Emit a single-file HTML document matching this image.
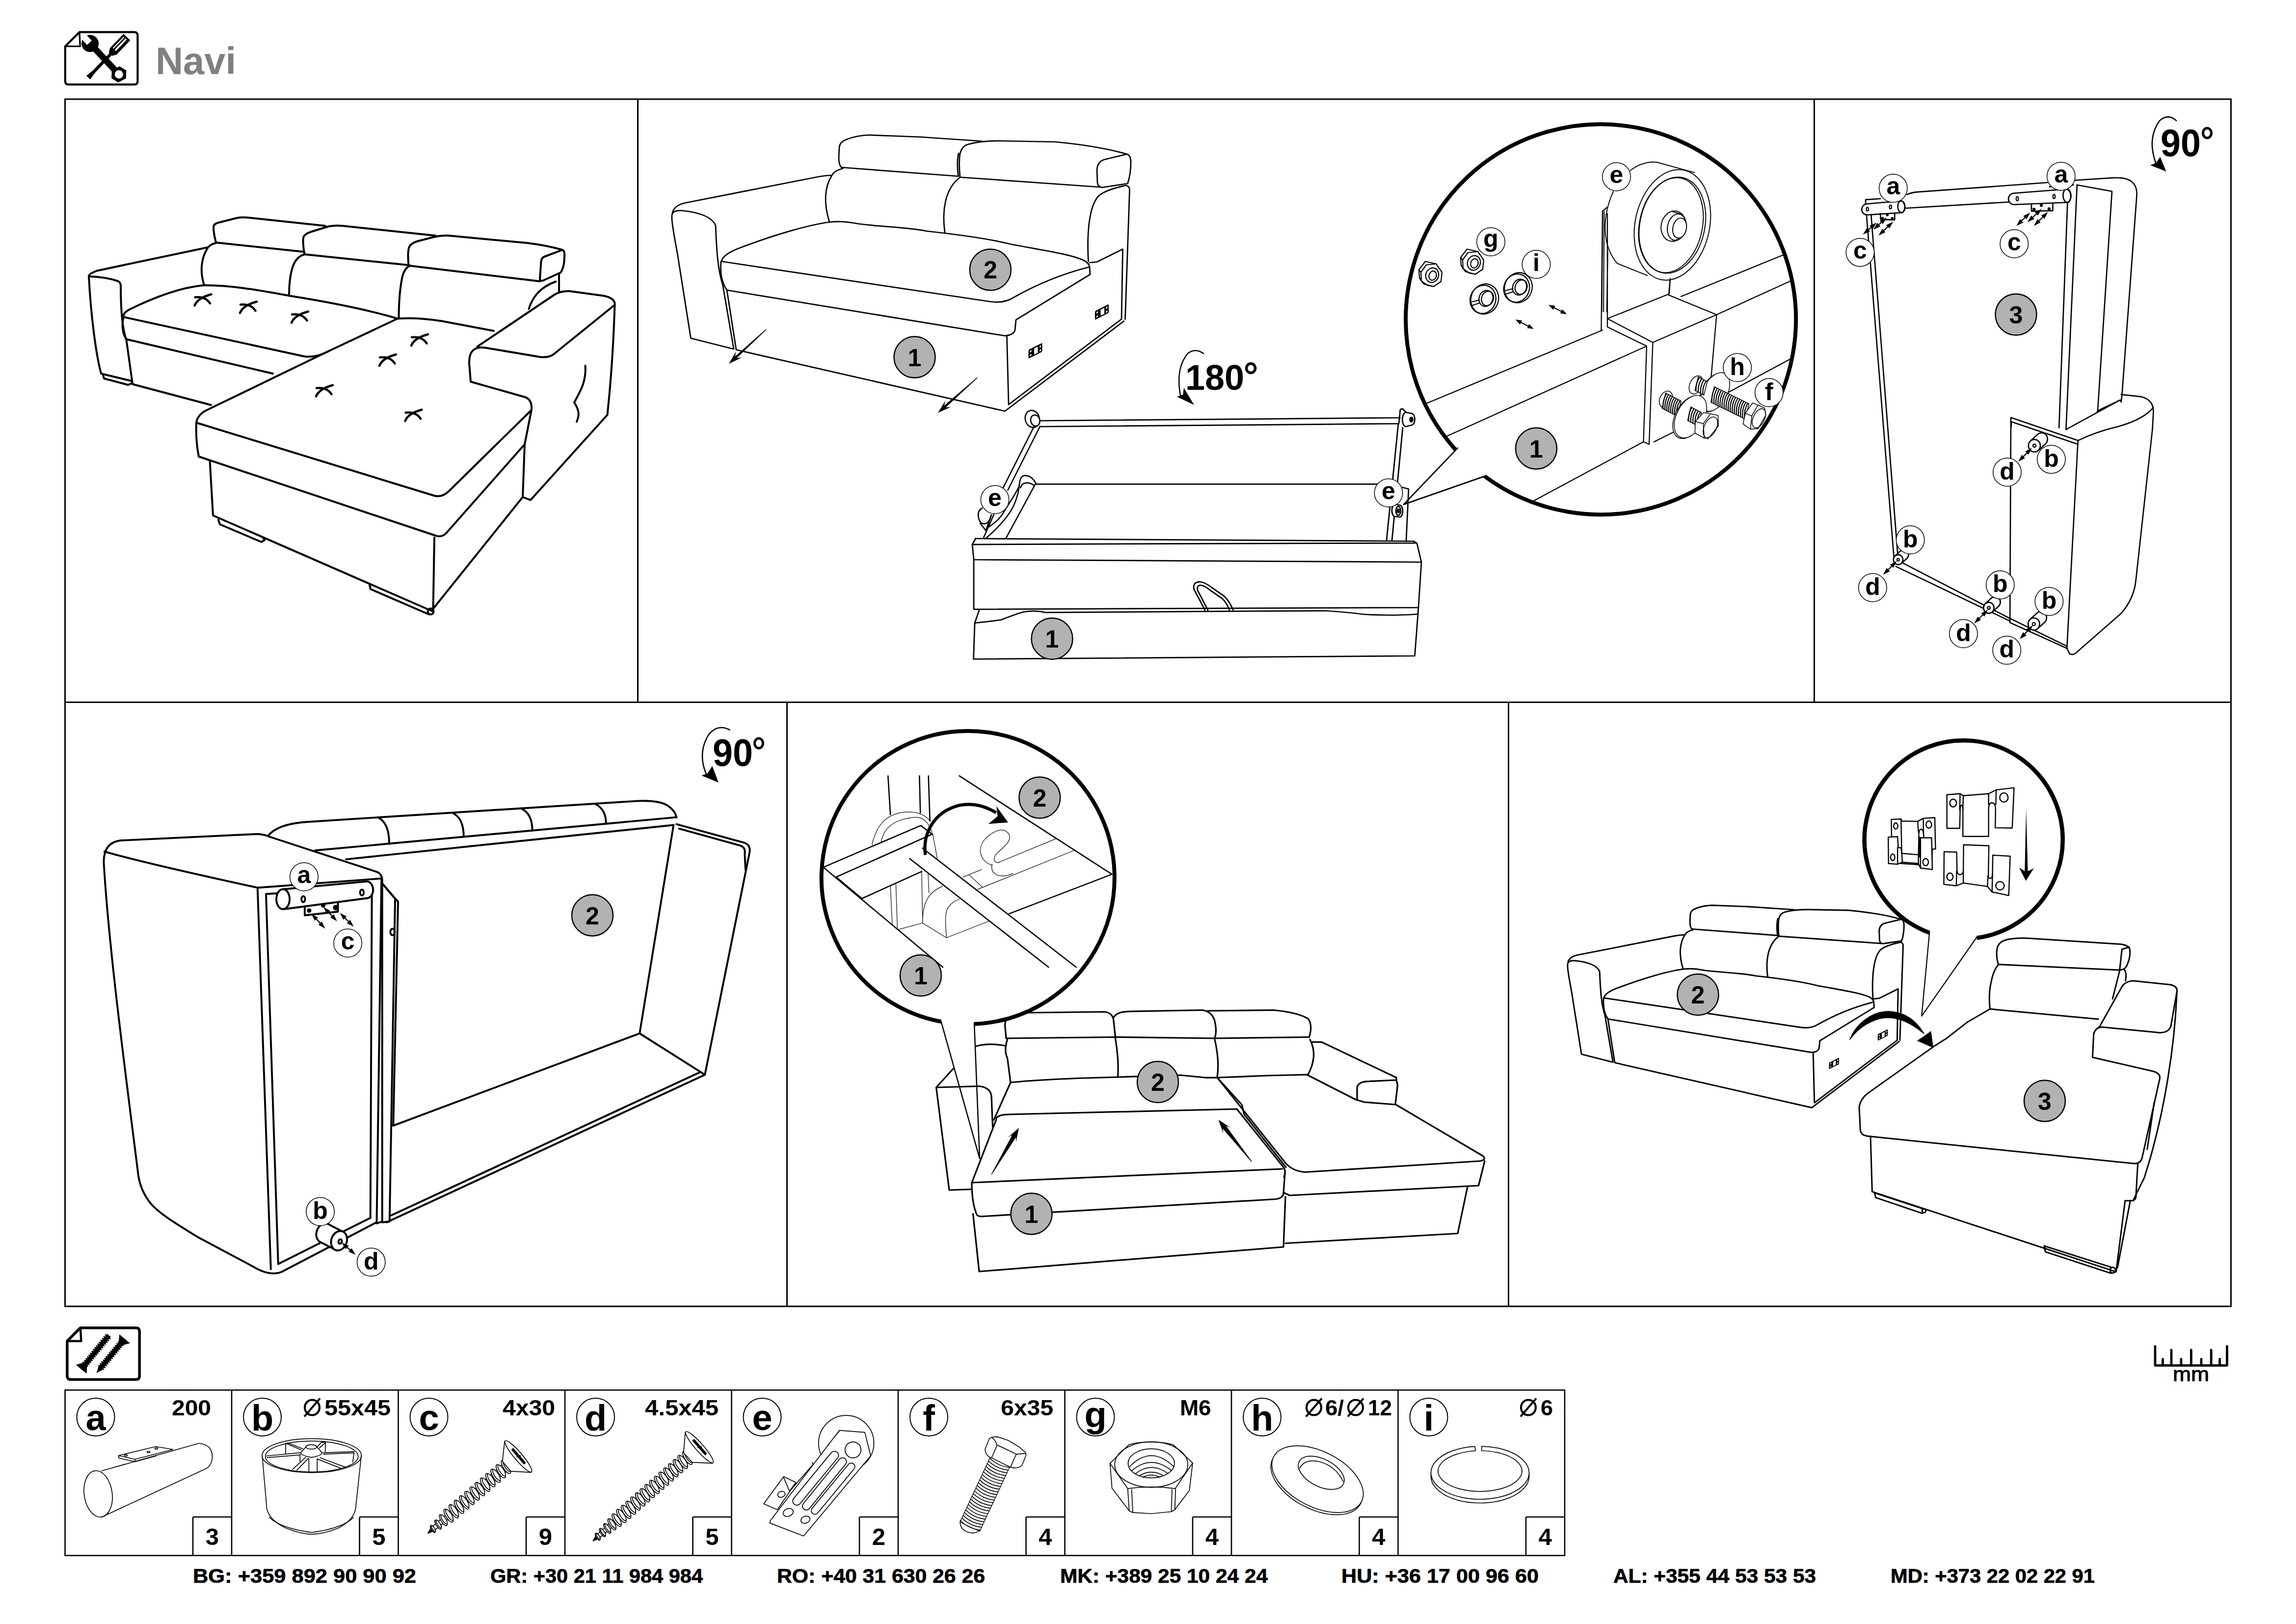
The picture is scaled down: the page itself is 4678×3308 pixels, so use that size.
<!DOCTYPE html>
<html><head><meta charset="utf-8">
<style>
html,body{margin:0;padding:0;background:#fff;}
body{width:4678px;height:3308px;overflow:hidden;font-family:"Liberation Sans",sans-serif;}
svg{display:block;position:absolute;left:0;top:0;}
.l{fill:none;stroke:#000;stroke-linecap:round;stroke-linejoin:round;}
.w{fill:#fff;stroke:#000;stroke-linecap:round;stroke-linejoin:round;}
text{font-family:"Liberation Sans",sans-serif;}
.b{font-weight:bold;}
</style></head><body>
<svg width="4678" height="3308" viewBox="0 0 4678 3308">
<rect width="4678" height="3308" fill="#fff"/>
<!-- hdr.svg -->
<text x="317" y="151" class="b" font-size="77" fill="#808080" textLength="164" lengthAdjust="spacingAndGlyphs">Navi</text>
<path d="M132.8,94.4 L161.8,65.4 L273.4,65.4 Q280.4,65.4 280.4,72.4 L280.4,165.2 Q280.4,172.2 273.4,172.2 L139.8,172.2 Q132.8,172.2 132.8,165.2 Z" fill="#fff" stroke="#000" stroke-width="4.2" stroke-linejoin="round"/><path d="M161.8,65.4 L163.3,94.4 L132.8,94.4" fill="none" stroke="#000" stroke-width="3.36" stroke-linejoin="round"/>
<g transform="translate(183.6,88.6) rotate(47)">
<rect x="0" y="-6.5" width="86" height="13" fill="#000"/>
<circle cx="0" cy="0" r="17.5" fill="#000"/>
<path d="M-20,-6.5 L-2,-6.5 L-2,6.5 L-20,6.5 Z" fill="#fff"/>
<path d="M72,-9 L86,-17 L100,-9 L100,9 L86,17 L72,9 Z" fill="#000" transform="rotate(15 86 0)"/>
<circle cx="86" cy="0" r="8.5" fill="#fff"/>
</g>
<g transform="translate(258.5,75.5) rotate(133.6)">
<path d="M0,-9.5 L40,-9.5 L48,-5 L48,5 L40,9.5 L0,9.5 Z" fill="#000"/>
<rect x="4" y="-3.4" width="32" height="3.6" fill="#fff"/><rect x="4" y="3.2" width="32" height="2.2" fill="#fff"/>
<rect x="46" y="-3.2" width="56" height="6.4" fill="#000"/>
<path d="M98,-3.2 L114,-5.5 L114,5.5 L98,3.2 Z" fill="#000"/>
</g>
<path d="M136.9,2731.8 L163.9,2704.8 L277.2,2704.8 Q284.2,2704.8 284.2,2711.8 L284.2,2803 Q284.2,2810 277.2,2810 L143.9,2810 Q136.9,2810 136.9,2803 Z" fill="#fff" stroke="#000" stroke-width="5.5" stroke-linejoin="round"/><path d="M163.9,2704.8 L165.4,2731.8 L136.9,2731.8" fill="none" stroke="#000" stroke-width="4.4" stroke-linejoin="round"/>
<path d="M173.1,2779.7 L221.5,2720.6" stroke="#000" stroke-width="14" stroke-dasharray="2.6 2.2" fill="none"/><path d="M165.5,2789.0 L222.0,2720.0" stroke="#000" stroke-width="9.5" fill="none"/><path d="M176.3,2797.9 L154.7,2780.1 L169.9,2775.8 L177.6,2782.1 Z" fill="#000"/>
<path d="M246.4,2736.3 L204.1,2787.7" stroke="#000" stroke-width="14" stroke-dasharray="2.6 2.2" fill="none"/><path d="M254.0,2727.0 L202.6,2789.6" stroke="#000" stroke-width="9.5" fill="none"/><path d="M196.5,2797.0 L202.0,2780.8 L211.3,2788.4 Z" fill="#000"/><path d="M243.2,2718.1 L264.8,2735.9 L249.6,2740.2 L241.9,2733.9 Z" fill="#000"/>
<!-- p1.svg -->
<g id="p1" transform="translate(150,400) scale(.5)" class="l" stroke-width="8">
<defs><g id="xm" stroke-width="9"><path d="M-34,23 Q-22,-8 34,-23"/><path d="M-32,-11 Q10,-16 29,14"/></g></defs>
<!-- left arm -->
<path d="M62,326 Q60,316 95,303 L545,208"/>
<path d="M62,326 Q130,328 180,345 Q192,350 192,365 C192,450 198,540 215,585 L240,764"/>
<path d="M62,326 C70,480 90,640 112,722 L236,752"/>
<path d="M120,728 L124,742 L222,768 L236,762"/>
<!-- seat -->
<path d="M205,492 Q198,478 225,462 C330,410 430,372 530,362 C650,362 770,385 880,405 C1050,432 1200,462 1320,498"/>
<path d="M205,492 L940,652 Q990,658 1040,630"/>
<path d="M203,492 C195,530 200,560 215,582 L812,722"/>
<path d="M240,765 L560,850"/>
<!-- back cushions -->
<path d="M532,362 C515,310 518,255 545,212 Q555,195 580,190"/>
<path d="M878,405 C878,350 885,300 900,270 Q915,242 942,236"/>
<path d="M1325,497 C1325,430 1330,370 1340,325 Q1350,290 1372,282"/>
<path d="M1978,318 L1978,390"/>
<path d="M1965,347 C1900,370 1870,410 1855,458"/>
<!-- headrests -->
<path d="M580,188 C574,165 570,140 570,125 Q570,112 590,107 L665,88 Q685,84 705,86 L1025,120"/>
<path d="M580,188 L940,226"/>
<path d="M940,232 C935,200 934,180 936,168 Q940,152 975,142 L1040,122 Q1065,117 1095,120 L1475,160"/>
<path d="M940,236 L1365,280"/>
<path d="M1365,282 C1362,250 1362,225 1366,210 Q1372,192 1400,183 L1470,165 Q1500,158 1530,160 L1850,190 Q1930,200 1992,218"/>
<path d="M1365,282 L1900,346"/>
<path d="M1992,218 Q2002,222 2000,245 C2000,270 1995,295 1985,310 L1915,342 Q1900,348 1900,335 L1905,265 Q1906,250 1920,245 Z"/>
<!-- right arm -->
<path d="M1645,612 L1960,400 Q1985,385 2020,386 L2160,405 Q2208,415 2205,442"/>
<path d="M2205,442 L1960,640 Q1942,657 1905,655 L1680,617 Q1610,605 1612,680 L1618,755 L1840,818 Q1868,828 1866,868 L1838,1010 L1830,1225 L1862,1237 L2175,890 C2190,750 2200,600 2205,442"/>
<path d="M2085,690 C2090,760 2060,800 2040,840 C2060,870 2062,890 2050,918"/>
<!-- chaise -->
<path d="M1320,498 L1040,630 L540,872 Q505,890 500,922 L1465,1218 Q1500,1230 1530,1200 L1864,872"/>
<path d="M1320,498 Q1400,492 1500,508 L1712,548"/>
<path d="M500,922 C498,970 502,1020 510,1060 L1475,1382 Q1500,1392 1520,1370 L1838,1010"/>
<path d="M555,1076 L568,1300 L1462,1690"/>
<path d="M1470,1390 L1465,1680 L1830,1225"/>
<path d="M590,1318 L596,1336 L765,1408 L778,1400 L772,1390"/>
<path d="M1205,1578 L1210,1600 L1448,1703"/>
<circle cx="1455" cy="1691" r="12"/>
<use href="#xm" x="527" y="422"/><use href="#xm" x="712" y="452"/><use href="#xm" x="922" y="492"/>
<use href="#xm" x="1410" y="585"/><use href="#xm" x="1280" y="667"/><use href="#xm" x="1022" y="792"/><use href="#xm" x="1385" y="892"/>
</g>
<!-- p2a.svg -->
<defs>
<g id="hng"><g transform="skewY(-27)"><rect x="-28" y="-18" width="56" height="36" rx="4" fill="#000" stroke="none"/><rect x="-5" y="-12" width="15" height="25" fill="#fff" stroke="none"/><rect x="-22" y="-11" width="6" height="7" fill="#fff" stroke="none"/><rect x="-22" y="5" width="6" height="7" fill="#fff" stroke="none"/><rect x="17" y="-11" width="6" height="7" fill="#fff" stroke="none"/><rect x="17" y="5" width="6" height="7" fill="#fff" stroke="none"/></g></g>
<g id="arw"><path d="M0,0 L-152,140" class="l" stroke-width="4"/><path d="M-152,140 L-118,84 L-126,110 L-96,108 Z" fill="#000"/></g>
</defs>
<g id="p2a" transform="translate(1300,230) scale(.5)" class="l" stroke-width="5.5">
<!-- left arm -->
<path d="M215,918 L160,570 Q135,440 138,420 Q138,395 180,398 Q295,410 316,458 C320,560 325,640 345,700 L390,962 Z"/>
<path d="M140,405 Q150,375 195,366 L735,260 Q760,255 790,254"/>
<!-- seat -->
<path d="M340,605 Q345,575 420,548 C560,495 700,455 780,445 Q830,438 900,452 C1000,465 1100,465 1180,482 C1300,495 1420,510 1520,535 C1650,560 1760,575 1815,600 Q1840,612 1840,630"/>
<path d="M340,605 L1430,768 Q1490,778 1530,752 C1640,690 1750,650 1838,628"/>
<path d="M338,605 C334,650 340,690 362,722 L1495,908 Q1530,905 1536,885 L1540,843 L1842,658 L1840,628"/>
<!-- base -->
<path d="M362,722 L400,965 L1495,1215 L1980,848"/>
<path d="M1503,912 L1510,1188 L1970,840 L1975,555 L1870,607 L1840,610"/>
<!-- backs -->
<path d="M780,445 C760,380 755,310 790,254 Q800,235 835,226"/>
<path d="M1250,487 C1238,400 1250,310 1310,264"/>
<path d="M1835,605 C1828,480 1840,380 1875,340 Q1900,315 1985,296 Q2003,295 2003,315 L1985,840"/>
<!-- headrests -->
<path d="M830,222 Q818,215 818,180 L820,140 Q822,118 850,108 Q890,92 940,90 L1150,98 L1400,115"/>
<path d="M830,222 L1305,258"/>
<path d="M1305,258 C1300,220 1300,190 1306,165"/>
<path d="M1312,260 C1308,220 1308,190 1312,165 Q1320,135 1345,128 Q1400,113 1480,114 L1700,118 Q1880,135 1992,168"/>
<path d="M1312,262 L1880,302"/>
<path d="M1992,168 Q2008,172 2008,200 Q2008,250 1995,288 L1895,303 Q1875,305 1872,285 L1870,235 Q1870,200 1900,190 Z"/>
<use href="#hng" x="1890" y="811"/>
<use href="#hng" x="1619" y="969"/>
</g>
<!-- p2b.svg -->
<g id="p2b" transform="translate(1850,640) scale(.5)" class="l" stroke-width="5.5">
<!-- top rail -->
<path d="M538,434 L2005,422 M538,458 L2000,446"/>
<!-- right wheel -->
<path d="M2000,446 L2005,400 Q2003,385 2015,385 L2030,400" />
<path d="M2030,400 L2055,405 A14,24 0 0 1 2052,452 L2028,458 A14,28 0 0 1 2030,400 Z" class="w"/>
<ellipse cx="2051" cy="429" rx="6" ry="9" fill="#000"/>
<!-- right rail -->
<path d="M1998,446 L1950,922 M2016,462 L1972,922"/>
<path d="M2012,705 L2040,712 L2030,925"/>
<path d="M1985,775 L2005,778 A12,24 0 0 1 2003,826 L1983,824 A12,24 0 0 1 1985,775 Z" class="w"/>
<ellipse cx="1998" cy="801" rx="10" ry="18" class="w"/>
<ellipse cx="1998" cy="801" rx="4" ry="7" fill="#000"/>
<!-- inner back -->
<path d="M522,692 L1930,692"/>
<!-- front board -->
<path d="M275,914 L2060,925"/>
<path d="M275,915 L262,938 L2072,932 L2060,925"/>
<path d="M262,938 L268,1000 L2092,1010 L2074,934"/>
<path d="M268,1000 L268,1202 L2080,1195 L2092,1010"/>
<!-- lower box -->
<path d="M290,1206 L272,1258 Q330,1252 380,1245 Q430,1225 470,1213 Q520,1205 560,1215 L1700,1208 Q1800,1215 1850,1222 Q1950,1230 2078,1222"/>
<path d="M272,1258 L267,1405 L2065,1392 L2078,1222 L2080,1195"/>
<!-- strap -->
<path d="M1210,1205 L1165,1120 Q1160,1090 1190,1090 Q1210,1092 1240,1115 L1290,1150 Q1310,1170 1325,1205"/>
<path d="M1222,1205 L1180,1125 Q1176,1105 1192,1104 Q1210,1106 1232,1125 L1280,1158 Q1298,1175 1310,1205"/>
</g>
<g transform="translate(1950,820) scale(.18474)" class="l" stroke-width="14">
<ellipse cx="830" cy="180" rx="78" ry="95" transform="rotate(-15 830 180)"/>
<ellipse cx="862" cy="198" rx="50" ry="62" transform="rotate(-15 862 198)" class="w"/>
<path d="M850,262 L480,995 M915,262 L560,965"/>
<path d="M275,1165 Q225,1190 235,1260 Q250,1345 310,1335 Q360,1325 375,1240 M255,1330 L320,1415"/>
<path d="M868,890 L540,1495"/>
<path d="M868,890 Q820,800 740,805 Q700,810 690,880 C670,1100 600,1250 320,1495"/>
<path d="M850,915 Q800,875 740,890 Q710,900 700,940"/>
<path d="M685,920 C640,1020 560,1130 520,1200 C470,1290 400,1340 350,1370"/>
<path d="M405,1235 L290,1495 M378,1240 L318,1410"/>
</g>
<!-- 180 -->
<g id="r180">
<path d="M2452,720 Q2435,708 2420,720 Q2395,750 2405,805" class="l" stroke-width="2.5"/>
<path d="M2433,825 L2398,808 L2410,804 L2412,790 Z" fill="#000"/>
<text x="2415" y="794" class="b" font-size="72" textLength="120" lengthAdjust="spacingAndGlyphs">180</text>
<ellipse cx="2548.5" cy="750" rx="9" ry="9.5" fill="none" stroke="#000" stroke-width="5.5"/>
</g>
<!-- p2c.svg -->
<defs><clipPath id="bigc"><circle cx="3263.5" cy="651" r="396"/></clipPath></defs>
<path d="M2970,912.5 L2860,1027.5 L3025,970" class="l" stroke-width="2.5" fill="#fff"/>
<path d="M2966,916.5 A397.5,397.5 0 1 1 3024.8,970 Z" fill="#fff" stroke="none"/>
<path d="M2966,916.5 A397.5,397.5 0 1 1 3024.8,970" fill="none" stroke="#000" stroke-width="8" stroke-linejoin="miter"/>
<path d="M2970,912.5 L2860,1027.5 L3025,970" class="l" stroke-width="2.5"/>
<g clip-path="url(#bigc)">
<g transform="translate(2700,230) scale(.5)" class="l" stroke-width="4.5">
<path d="M380,1197 L1130,885 M1450,748 L1900,565"/>
<path d="M480,1324 L1310,950 M1595,822 L1900,683"/>
<path d="M800,1607 L1297,1340 M1640,1140 L1900,1000"/>
<path d="M1340,1340 L1420,1300"/>
<path d="M1150,838 L1395,740 L1595,822 L1335,935 Z"/>
<path d="M1150,838 L1150,872 L1310,950 L1297,1340 L1320,1350 L1335,935"/>
<path d="M1595,822 L1572,1085"/>
<path d="M1130,400 L1125,885 M1150,410 L1150,838 M1130,400 L1148,385"/>
<path d="M1405,680 L1400,740"/>
<path d="M783.9,846.5 L841.1,875.5" stroke-width="4"/><path d="M775.0,842.0 L794.1,861.8 L802.3,845.7 Z" fill="#000" stroke="none"/><path d="M850.0,880.0 L822.7,876.3 L830.9,860.2 Z" fill="#000" stroke="none"/>
<path d="M918.9,786.5 L976.1,815.5" stroke-width="4"/><path d="M910.0,782.0 L929.1,801.8 L937.3,785.7 Z" fill="#000" stroke="none"/><path d="M985.0,820.0 L957.7,816.3 L965.9,800.2 Z" fill="#000" stroke="none"/>
<g transform="translate(430,657) scale(1)"><path d="M-48,-18 L-22,-52 L22,-42 L46,-8 L42,30 L12,50 L-28,40 L-46,14 Z" class="w"/><path d="M-48,-18 L-40,-8 L-38,28 L-46,14 M-40,-8 L-18,-38 L22,-42 M-38,28 L-12,46 L12,50"/><ellipse cx="6" cy="4" rx="26" ry="30" transform="rotate(20 6 4)"/><ellipse cx="8" cy="6" rx="15" ry="19" transform="rotate(20 8 6)"/></g>
<g transform="translate(600,607) scale(1)"><path d="M-48,-18 L-22,-52 L22,-42 L46,-8 L42,30 L12,50 L-28,40 L-46,14 Z" class="w"/><path d="M-48,-18 L-40,-8 L-38,28 L-46,14 M-40,-8 L-18,-38 L22,-42 M-38,28 L-12,46 L12,50"/><ellipse cx="6" cy="4" rx="26" ry="30" transform="rotate(20 6 4)"/><ellipse cx="8" cy="6" rx="15" ry="19" transform="rotate(20 8 6)"/></g>
<g transform="translate(650,758)"><ellipse cx="0" cy="0" rx="56" ry="62" transform="rotate(20)" class="w"/><ellipse cx="-6" cy="4" rx="52" ry="58" transform="rotate(20)"/><ellipse cx="4" cy="-4" rx="28" ry="33" transform="rotate(20)"/><ellipse cx="10" cy="-6" rx="24" ry="30" transform="rotate(20)"/><path d="M-52,12 L-22,4 M-50,26 L-20,16" /></g>
<g transform="translate(787,712)"><ellipse cx="0" cy="0" rx="56" ry="62" transform="rotate(20)" class="w"/><ellipse cx="-6" cy="4" rx="52" ry="58" transform="rotate(20)"/><ellipse cx="4" cy="-4" rx="28" ry="33" transform="rotate(20)"/><ellipse cx="10" cy="-6" rx="24" ry="30" transform="rotate(20)"/><path d="M-52,12 L-22,4 M-50,26 L-20,16" /></g>
</g>
<g transform="translate(3230,300) scale(.19711)" class="l" stroke-width="10">
<path d="M465,240 Q560,165 680,152 L740,155 L1130,262"/>
<path d="M290,455 C180,700 160,1000 330,1200 L640,1325"/>
<path d="M180,660 L215,630 M180,660 L170,1700 M195,665 L188,1700 M232,1080 L222,1700"/>
<ellipse cx="900" cy="802" rx="385" ry="578" transform="rotate(12 900 802)" class="w"/>
<ellipse cx="900" cy="805" rx="335" ry="503" transform="rotate(12 900 805)"/>
<ellipse cx="885" cy="805" rx="325" ry="497" transform="rotate(12 885 805)"/>
<ellipse cx="912" cy="815" rx="128" ry="158" transform="rotate(12 912 815)"/>
<path d="M900,665 L990,690 M905,972 L960,950"/>
<ellipse cx="945" cy="825" rx="95" ry="138" transform="rotate(12 945 825)"/>
<ellipse cx="975" cy="835" rx="70" ry="105" transform="rotate(12 975 835)" class="w"/>
<path d="M878,1355 L868,1515"/>
</g>
<g transform="translate(3360,720) scale(.13066)" class="l" stroke-width="12">
<ellipse cx="1012" cy="608" rx="190" ry="325" transform="rotate(28 1012 608)" class="w"/>
<ellipse cx="1030" cy="600" rx="190" ry="325" transform="rotate(28 1030 600)" class="w"/>
<ellipse cx="730" cy="490" rx="95" ry="150" transform="rotate(25 730 490)" class="w"/>
<path d="M766.4,365.0 L906.4,440.0 L853.6,650.0 L713.6,575.0 Z" fill="#fff" stroke="#000" stroke-width="12" stroke-linejoin="round"/><path d="M783.9,374.4 Q725.1,462.0 731.1,584.3" fill="none" stroke="#000" stroke-width="17" stroke-linecap="round"/><path d="M818.9,393.2 Q760.1,480.8 766.1,603.1" fill="none" stroke="#000" stroke-width="17" stroke-linecap="round"/><path d="M853.9,411.9 Q795.1,499.5 801.1,621.8" fill="none" stroke="#000" stroke-width="17" stroke-linecap="round"/><path d="M888.9,430.7 Q830.1,518.3 836.1,640.6" fill="none" stroke="#000" stroke-width="17" stroke-linecap="round"/>
<path d="M1015.9,519.1 L1555.9,784.1 L1504.1,1025.9 L964.1,760.9 Z" fill="#fff" stroke="#000" stroke-width="12" stroke-linejoin="round"/><path d="M1031.8,526.9 Q968.2,629.3 979.9,768.7" fill="none" stroke="#000" stroke-width="17" stroke-linecap="round"/><path d="M1063.6,542.4 Q999.9,644.9 1011.7,784.3" fill="none" stroke="#000" stroke-width="17" stroke-linecap="round"/><path d="M1095.3,558.0 Q1031.7,660.5 1043.5,799.9" fill="none" stroke="#000" stroke-width="17" stroke-linecap="round"/><path d="M1127.1,573.6 Q1063.5,676.1 1075.2,815.5" fill="none" stroke="#000" stroke-width="17" stroke-linecap="round"/><path d="M1158.9,589.2 Q1095.2,691.6 1107.0,831.1" fill="none" stroke="#000" stroke-width="17" stroke-linecap="round"/><path d="M1190.6,604.8 Q1127.0,707.2 1138.8,846.7" fill="none" stroke="#000" stroke-width="17" stroke-linecap="round"/><path d="M1222.4,620.4 Q1158.8,722.8 1170.5,862.3" fill="none" stroke="#000" stroke-width="17" stroke-linecap="round"/><path d="M1254.2,636.0 Q1190.5,738.4 1202.3,877.9" fill="none" stroke="#000" stroke-width="17" stroke-linecap="round"/><path d="M1285.9,651.6 Q1222.3,754.0 1234.1,893.4" fill="none" stroke="#000" stroke-width="17" stroke-linecap="round"/><path d="M1317.7,667.1 Q1254.1,769.6 1265.8,909.0" fill="none" stroke="#000" stroke-width="17" stroke-linecap="round"/><path d="M1349.5,682.7 Q1285.8,785.2 1297.6,924.6" fill="none" stroke="#000" stroke-width="17" stroke-linecap="round"/><path d="M1381.2,698.3 Q1317.6,800.8 1329.4,940.2" fill="none" stroke="#000" stroke-width="17" stroke-linecap="round"/><path d="M1413.0,713.9 Q1349.4,816.3 1361.1,955.8" fill="none" stroke="#000" stroke-width="17" stroke-linecap="round"/><path d="M1444.8,729.5 Q1381.1,831.9 1392.9,971.4" fill="none" stroke="#000" stroke-width="17" stroke-linecap="round"/><path d="M1476.5,745.1 Q1412.9,847.5 1424.7,987.0" fill="none" stroke="#000" stroke-width="17" stroke-linecap="round"/><path d="M1508.3,760.7 Q1444.6,863.1 1456.4,1002.6" fill="none" stroke="#000" stroke-width="17" stroke-linecap="round"/><path d="M1540.1,776.3 Q1476.4,878.7 1488.2,1018.1" fill="none" stroke="#000" stroke-width="17" stroke-linecap="round"/>
<path d="M1465,1100 L1500,930 L1615,770 L1800,850 L1820,960 L1700,1170 L1580,1180 Z" class="w"/>
<path d="M1500,930 L1600,975 L1580,1180 M1600,975 L1700,800"/>
<ellipse cx="1712" cy="1010" rx="88" ry="160" transform="rotate(25 1712 1010)"/>
<ellipse cx="262" cy="715" rx="95" ry="135" transform="rotate(25 262 715)" class="w"/>
<path d="M258.3,616.7 L498.3,741.7 L441.7,978.3 L201.7,853.3 Z" fill="#fff" stroke="#000" stroke-width="12" stroke-linejoin="round"/><path d="M273.3,624.5 Q208.4,723.7 216.7,861.1" fill="none" stroke="#000" stroke-width="17" stroke-linecap="round"/><path d="M303.3,640.2 Q238.4,739.4 246.7,876.7" fill="none" stroke="#000" stroke-width="17" stroke-linecap="round"/><path d="M333.3,655.8 Q268.4,755.0 276.7,892.3" fill="none" stroke="#000" stroke-width="17" stroke-linecap="round"/><path d="M363.3,671.4 Q298.4,770.6 306.7,908.0" fill="none" stroke="#000" stroke-width="17" stroke-linecap="round"/><path d="M393.3,687.0 Q328.4,786.2 336.7,923.6" fill="none" stroke="#000" stroke-width="17" stroke-linecap="round"/><path d="M423.3,702.7 Q358.4,801.9 366.7,939.2" fill="none" stroke="#000" stroke-width="17" stroke-linecap="round"/><path d="M453.3,718.3 Q388.4,817.5 396.7,954.8" fill="none" stroke="#000" stroke-width="17" stroke-linecap="round"/><path d="M483.3,733.9 Q418.4,833.1 426.7,970.5" fill="none" stroke="#000" stroke-width="17" stroke-linecap="round"/>
<ellipse cx="622" cy="995" rx="215" ry="358" transform="rotate(28 622 995)" class="w"/>
<ellipse cx="645" cy="985" rx="215" ry="358" transform="rotate(28 645 985)" class="w"/>
<path d="M649.7,834.6 L814.7,919.6 L765.3,1130.4 L600.3,1045.4 Z" fill="#fff" stroke="#000" stroke-width="12" stroke-linejoin="round"/><path d="M666.2,843.1 Q608.8,931.7 616.8,1053.9" fill="none" stroke="#000" stroke-width="17" stroke-linecap="round"/><path d="M699.2,860.1 Q641.8,948.7 649.8,1070.9" fill="none" stroke="#000" stroke-width="17" stroke-linecap="round"/><path d="M732.2,877.1 Q674.8,965.7 682.8,1087.9" fill="none" stroke="#000" stroke-width="17" stroke-linecap="round"/><path d="M765.2,894.1 Q707.8,982.7 715.8,1104.9" fill="none" stroke="#000" stroke-width="17" stroke-linecap="round"/><path d="M798.2,911.1 Q740.8,999.7 748.8,1121.9" fill="none" stroke="#000" stroke-width="17" stroke-linecap="round"/>
<path d="M715,1240 L720,1060 L850,920 L1075,965 L1080,1130 L920,1330 L860,1320 Z" class="w"/>
<path d="M720,1060 L845,1095 L860,1320 M845,1095 L950,950"/>
<ellipse cx="955" cy="1150" rx="95" ry="172" transform="rotate(25 955 1150)"/>
</g>
</g>
<circle cx="3293.5" cy="360.0" r="28.7" fill="#fff" stroke="#000" stroke-width="1.5"/><text x="3293.5" y="373.0" text-anchor="middle" class="b" font-size="50">e</text>
<circle cx="3037.5" cy="492.5" r="28.7" fill="#fff" stroke="#000" stroke-width="1.5"/><text x="3037.5" y="502.5" text-anchor="middle" class="b" font-size="50">g</text>
<circle cx="3130.0" cy="538.5" r="28.7" fill="#fff" stroke="#000" stroke-width="1.5"/><text x="3130.0" y="551.5" text-anchor="middle" class="b" font-size="50">i</text>
<circle cx="3539.7" cy="748.7" r="28.7" fill="#fff" stroke="#000" stroke-width="1.5"/><text x="3539.7" y="763.7" text-anchor="middle" class="b" font-size="50">h</text>
<circle cx="3604.3" cy="799.7" r="28.7" fill="#fff" stroke="#000" stroke-width="1.5"/><text x="3604.3" y="814.7" text-anchor="middle" class="b" font-size="50">f</text>
<circle cx="3130.0" cy="913.5" r="42.0" fill="#b2b2b2" stroke="#000" stroke-width="2.5"/><text x="3130.0" y="931.5" text-anchor="middle" class="b" font-size="50">1</text>
<!-- p2l.svg -->
<path d="M1560.6,670.6 L1497.7,725.9 L1499.8,715.8 L1485.0,741.0 L1511.4,728.3 L1501.1,729.6 L1561.4,671.4 Z" fill="#000"/>
<path d="M1991.1,768.6 L1923.9,826.1 L1926.2,816.0 L1911.0,841.0 L1937.5,828.7 L1927.3,829.8 L1991.9,769.4 Z" fill="#000"/>
<circle cx="2017.8" cy="549.4" r="42.0" fill="#b2b2b2" stroke="#000" stroke-width="2.5"/><text x="2017.8" y="567.4" text-anchor="middle" class="b" font-size="50">2</text>
<circle cx="1863.5" cy="727.5" r="42.0" fill="#b2b2b2" stroke="#000" stroke-width="2.5"/><text x="1863.5" y="745.5" text-anchor="middle" class="b" font-size="50">1</text>
<circle cx="2143.5" cy="1301.0" r="42.0" fill="#b2b2b2" stroke="#000" stroke-width="2.5"/><text x="2143.5" y="1319.0" text-anchor="middle" class="b" font-size="50">1</text>
<circle cx="2027.0" cy="1017.7" r="28.7" fill="#fff" stroke="#000" stroke-width="1.5"/><text x="2027.0" y="1030.7" text-anchor="middle" class="b" font-size="50">e</text>
<circle cx="2829.0" cy="1004.0" r="28.7" fill="#fff" stroke="#000" stroke-width="1.5"/><text x="2829.0" y="1017.0" text-anchor="middle" class="b" font-size="50">e</text>
<!-- p3.svg -->
<g transform="translate(3700,210) scale(0.37456)" class="l" stroke-width="7">
<path d="M270,548 L270,525 L350,520"/>
<path d="M495,497 Q520,485 560,483 L1262,432"/>
<path d="M480,572 L1050,538"/>
<path d="M1405,420 L1262,432 M1400,445 L1270,455"/>
<path d="M275,610 L425,2485 M300,610 L445,2462"/>
<path d="M1405,420 L1620,406 Q1750,400 1745,500 L1665,1580 L1660,1625"/>
<path d="M1420,445 L1610,480 L1532,1680"/>
<path d="M1368,545 L1322,1765 M1420,445 L1360,1775"/>
<path d="M278,548 L462,532 A20,32 0 0 1 466,596 L280,608 A30,30 0 0 1 278,548 Z" class="w"/>
<ellipse cx="464" cy="564" rx="19" ry="32" transform="rotate(-4 464 564)"/>
<ellipse cx="280" cy="577" rx="6" ry="10" stroke-width="6"/><ellipse cx="405" cy="565" rx="6" ry="10" stroke-width="6"/>
<path d="M350,600 L352,633 L428,635 L428,598"/>
<circle cx="362" cy="626" r="4" fill="#000"/><circle cx="388" cy="608" r="4" fill="#000"/><circle cx="415" cy="627" r="4" fill="#000"/>
<path d="M1078,490 L1362,468 A22,36 0 0 1 1368,540 L1078,552 A31,31 0 0 1 1078,490 Z" class="w"/>
<ellipse cx="1365" cy="504" rx="21" ry="36" transform="rotate(-4 1365 504)"/>
<ellipse cx="1095" cy="520" rx="6" ry="11" stroke-width="6"/><ellipse cx="1295" cy="508" rx="6" ry="11" stroke-width="6"/>
<path d="M1172,548 L1172,588 L1288,585 L1288,545"/>
<circle cx="1186" cy="578" r="5" fill="#000"/><circle cx="1226" cy="556" r="5" fill="#000"/><circle cx="1268" cy="575" r="5" fill="#000"/>
<g transform="translate(0,1575)">
<path d="M435,945 L1365,1390 M470,925 L1050,1225"/>
<path d="M1660,50 L1655,40 L1560,85 L1530,100"/>
<path d="M1360,200 L1650,42"/>
<path d="M1660,10 L1770,22 Q1840,40 1835,110 L1830,200 L1740,1020 Q1730,1120 1660,1200 L1420,1410 Q1400,1430 1380,1420 L1365,1390"/>
<path d="M1425,260 Q1520,215 1620,190 Q1780,150 1835,80"/>
<path d="M1060,135 L1425,260 L1365,1390 L1055,1250 Z" class="w"/>
<path d="M1062,158 L1418,278 M1062,185 L1062,158"/>
<path d="M1050,1225 L1360,1376"/>
<ellipse cx="1227.1" cy="252.3" rx="32.3" ry="34" class="w"/><path d="M1164.2,264.2 L1203.3,228.5 L1250.9,276.1 L1211.8,311.8 Z" fill="#fff" stroke="none"/><path d="M1164.88,263.52 L1203.98,227.82 M1211.12,312.48 L1250.22,276.78"/><ellipse cx="1188" cy="288" rx="32.3" ry="34" class="w"/><circle cx="1188" cy="288" r="8.5" stroke-width="6"/>
<ellipse cx="478.05" cy="879.65" rx="25.65" ry="27" class="w"/><path d="M428.1,889.1 L459.15,860.75 L496.95,898.55 L465.9,926.9 Z" fill="#fff" stroke="none"/><path d="M428.64,888.56 L459.69,860.21 M465.36,927.44 L496.41,899.09"/><ellipse cx="447" cy="908" rx="25.65" ry="27" class="w"/><circle cx="447" cy="908" r="6.75" stroke-width="6"/>
<ellipse cx="974.5" cy="1138.5" rx="28.5" ry="30" class="w"/><path d="M919,1149 L953.5,1117.5 L995.5,1159.5 L961,1191 Z" fill="#fff" stroke="none"/><path d="M919.6,1148.4 L954.1,1116.9 M960.4,1191.6 L994.9,1160.1"/><ellipse cx="940" cy="1170" rx="28.5" ry="30" class="w"/><circle cx="940" cy="1170" r="7.5" stroke-width="6"/>
<ellipse cx="1222.95" cy="1223.35" rx="31.35" ry="33" class="w"/><path d="M1161.9,1234.9 L1199.85,1200.25 L1246.05,1246.45 L1208.1,1281.1 Z" fill="#fff" stroke="none"/><path d="M1162.56,1234.24 L1200.51,1199.59 M1207.44,1281.76 L1245.39,1247.11"/><ellipse cx="1185" cy="1258" rx="31.35" ry="33" class="w"/><circle cx="1185" cy="1258" r="8.25" stroke-width="6"/>
</g>
</g>
<path d="M3809.6,465.6 L3806.8,468.0" fill="none" stroke="#000" stroke-width="2.4"/><path d="M3795.5,477.8 L3803.7,464.4 L3806.8,468.0 L3810.0,471.6 Z" fill="#000"/><path d="M3809.6,465.6 L3812.3,463.3" fill="none" stroke="#000" stroke-width="2.4"/><path d="M3823.6,453.5 L3815.4,466.9 L3812.3,463.3 L3809.2,459.7 Z" fill="#000"/>
<path d="M3830.5,455.3 L3828.0,457.6" fill="none" stroke="#000" stroke-width="2.4"/><path d="M3816.9,467.7 L3824.8,454.1 L3828.0,457.6 L3831.2,461.2 Z" fill="#000"/><path d="M3830.5,455.3 L3833.1,453.0" fill="none" stroke="#000" stroke-width="2.4"/><path d="M3844.2,443.0 L3836.3,456.6 L3833.1,453.0 L3829.9,449.5 Z" fill="#000"/>
<path d="M3842.3,465.6 L3838.3,469.4" fill="none" stroke="#000" stroke-width="2.4"/><path d="M3827.4,479.7 L3835.0,466.0 L3838.3,469.4 L3841.5,472.9 Z" fill="#000"/><path d="M3842.3,465.6 L3846.4,461.9" fill="none" stroke="#000" stroke-width="2.4"/><path d="M3857.3,451.6 L3849.6,465.3 L3846.4,461.9 L3843.1,458.4 Z" fill="#000"/>
<path d="M4122.3,446.5 L4119.0,449.7" fill="none" stroke="#000" stroke-width="2.4"/><path d="M4108.3,460.2 L4115.7,446.3 L4119.0,449.7 L4122.3,453.2 Z" fill="#000"/><path d="M4122.3,446.5 L4125.6,443.3" fill="none" stroke="#000" stroke-width="2.4"/><path d="M4136.4,432.9 L4128.9,446.7 L4125.6,443.3 L4122.3,439.9 Z" fill="#000"/>
<path d="M4145.4,439.0 L4141.7,442.5" fill="none" stroke="#000" stroke-width="2.4"/><path d="M4130.7,452.7 L4138.5,439.0 L4141.7,442.5 L4144.9,445.9 Z" fill="#000"/><path d="M4145.4,439.0 L4149.0,435.6" fill="none" stroke="#000" stroke-width="2.4"/><path d="M4160.0,425.4 L4152.3,439.1 L4149.0,435.6 L4145.8,432.2 Z" fill="#000"/>
<path d="M4158.3,446.0 L4154.5,449.7" fill="none" stroke="#000" stroke-width="2.4"/><path d="M4143.9,460.2 L4151.2,446.3 L4154.5,449.7 L4157.9,453.1 Z" fill="#000"/><path d="M4158.3,446.0 L4162.0,442.3" fill="none" stroke="#000" stroke-width="2.4"/><path d="M4172.7,431.7 L4165.4,445.7 L4162.0,442.3 L4158.7,438.9 Z" fill="#000"/>
<path d="M4126.1,926.4 L4122.6,929.9" fill="none" stroke="#000" stroke-width="2.4"/><path d="M4112.0,940.5 L4119.3,926.5 L4122.6,929.9 L4126.0,933.2 Z" fill="#000"/><path d="M4126.1,926.4 L4129.5,923.0" fill="none" stroke="#000" stroke-width="2.4"/><path d="M4140.1,912.4 L4132.9,926.3 L4129.5,923.0 L4126.1,919.6 Z" fill="#000"/>
<path d="M3850.8,1156.8 L3847.3,1160.2" fill="none" stroke="#000" stroke-width="2.4"/><path d="M3836.7,1170.8 L3844.0,1156.9 L3847.3,1160.2 L3850.7,1163.6 Z" fill="#000"/><path d="M3850.8,1156.8 L3854.2,1153.3" fill="none" stroke="#000" stroke-width="2.4"/><path d="M3864.8,1142.7 L3857.6,1156.7 L3854.2,1153.3 L3850.8,1150.0 Z" fill="#000"/>
<path d="M4036.2,1256.0 L4032.7,1259.5" fill="none" stroke="#000" stroke-width="2.4"/><path d="M4022.1,1270.1 L4029.4,1256.1 L4032.7,1259.5 L4036.1,1262.8 Z" fill="#000"/><path d="M4036.2,1256.0 L4039.6,1252.6" fill="none" stroke="#000" stroke-width="2.4"/><path d="M4050.2,1242.0 L4043.0,1256.0 L4039.6,1252.6 L4036.3,1249.2 Z" fill="#000"/>
<path d="M4128.5,1287.9 L4125.4,1291.1" fill="none" stroke="#000" stroke-width="2.4"/><path d="M4115.0,1301.9 L4122.0,1287.8 L4125.4,1291.1 L4128.8,1294.4 Z" fill="#000"/><path d="M4128.5,1287.9 L4131.6,1284.6" fill="none" stroke="#000" stroke-width="2.4"/><path d="M4142.0,1273.8 L4135.0,1287.9 L4131.6,1284.6 L4128.2,1281.4 Z" fill="#000"/>
<circle cx="3857.3" cy="383.4" r="28.7" fill="#fff" stroke="#000" stroke-width="1.5"/><text x="3857.3" y="396.4" text-anchor="middle" class="b" font-size="50">a</text>
<circle cx="4199.3" cy="359.1" r="28.7" fill="#fff" stroke="#000" stroke-width="1.5"/><text x="4199.3" y="372.1" text-anchor="middle" class="b" font-size="50">a</text>
<circle cx="3789.9" cy="514.1" r="28.7" fill="#fff" stroke="#000" stroke-width="1.5"/><text x="3789.9" y="527.1" text-anchor="middle" class="b" font-size="50">c</text>
<circle cx="4103.8" cy="496.5" r="28.7" fill="#fff" stroke="#000" stroke-width="1.5"/><text x="4103.8" y="509.5" text-anchor="middle" class="b" font-size="50">c</text>
<circle cx="4179.4" cy="935.6" r="28.7" fill="#fff" stroke="#000" stroke-width="1.5"/><text x="4179.4" y="950.6" text-anchor="middle" class="b" font-size="50">b</text>
<circle cx="4089.5" cy="961.8" r="28.7" fill="#fff" stroke="#000" stroke-width="1.5"/><text x="4089.5" y="976.8" text-anchor="middle" class="b" font-size="50">d</text>
<circle cx="3892.2" cy="1099.7" r="28.7" fill="#fff" stroke="#000" stroke-width="1.5"/><text x="3892.2" y="1114.7" text-anchor="middle" class="b" font-size="50">b</text>
<circle cx="3815.4" cy="1197.0" r="28.7" fill="#fff" stroke="#000" stroke-width="1.5"/><text x="3815.4" y="1212.0" text-anchor="middle" class="b" font-size="50">d</text>
<circle cx="4075.3" cy="1191.4" r="28.7" fill="#fff" stroke="#000" stroke-width="1.5"/><text x="4075.3" y="1206.4" text-anchor="middle" class="b" font-size="50">b</text>
<circle cx="4000.4" cy="1290.7" r="28.7" fill="#fff" stroke="#000" stroke-width="1.5"/><text x="4000.4" y="1305.7" text-anchor="middle" class="b" font-size="50">d</text>
<circle cx="4174.9" cy="1225.1" r="28.7" fill="#fff" stroke="#000" stroke-width="1.5"/><text x="4174.9" y="1240.1" text-anchor="middle" class="b" font-size="50">b</text>
<circle cx="4088.8" cy="1324.4" r="28.7" fill="#fff" stroke="#000" stroke-width="1.5"/><text x="4088.8" y="1339.4" text-anchor="middle" class="b" font-size="50">d</text>
<circle cx="4107.5" cy="640.7" r="42.0" fill="#b2b2b2" stroke="#000" stroke-width="2.5"/><text x="4107.5" y="658.7" text-anchor="middle" class="b" font-size="50">3</text>
<path d="M4434.1,245.6 Q4417.3,230.6 4400.4,245.6 Q4374.2,281.2 4392.2,331.7" class="l" stroke-width="2.6"/>
<path d="M4413.5,349.3 L4381.0,336.6 L4392.9,331.7 L4401.2,319.4 Z" fill="#000"/>
<text x="4402" y="318" class="b" font-size="77" textLength="82" lengthAdjust="spacingAndGlyphs">90</text>
<ellipse cx="4497" cy="271" rx="8.5" ry="10" fill="none" stroke="#000" stroke-width="5"/>
<!-- p4.svg -->
<g transform="translate(140,1440) scale(0.75142)" class="l" stroke-width="5.2">
<path d="M540,350 Q565,318 640,312 L1540,255 Q1600,252 1625,268 Q1645,282 1648,300"/>
<path d="M668,389 L1648,299"/>
<path d="M752,413 L1640,320"/>
<path d="M838,299.467 Q869,313.467 869,370.55"/>
<path d="M1040,286.68 Q1071,300.68 1071,351.986"/>
<path d="M1226,274.906 Q1257,288.906 1257,334.893"/>
<path d="M1426,262.246 Q1457,276.246 1457,316.513"/>
<path d="M1640,320 L1548,885 L880,1135"/>
<path d="M1648,318 L1832,368 Q1850,375 1846,395 L1725,997 L1548,885"/>
<path d="M1655,330 L1822,376 Q1836,382 1833,398 L1835,440"/>
<path d="M1725,997 L862,1397 M1712,990 L875,1378"/>
<path d="M850,478 L885,520 L870,1395 L850,1397"/>
<path d="M858,488 L893,528 L880,1135"/>
<ellipse cx="878" cy="610" rx="6" ry="9"/>
<path d="M835,1400 L850,1395 L850,470 Q850,455 838,448 L545,352 Q525,343 500,345 L140,362 Q95,368 95,420 C108,650 155,1000 189,1272 Q195,1310 219,1342 C240,1370 290,1400 349,1436.5 L498,1516 Q545,1545 578,1531" class="w"/>
<path d="M97,392 Q200,422 512,490"/>
<path d="M548,1524 L512,490 L848,465 L835,1397 L578,1531"/>
<path d="M535,507 L822,490 L818,1385 L568,1510 Z"/>
<path d="M583,494 L810,473 A18,23 0 0 1 812,518 L585,548 Z" class="w"/>
<ellipse cx="581" cy="521" rx="18" ry="27" class="w"/>
<ellipse cx="636" cy="521" rx="5" ry="8"/><ellipse cx="795" cy="503" rx="5" ry="8"/>
<path d="M640,542 L640,565 L730,555 L730,532"/>
<circle cx="652" cy="552" r="3.5" fill="#000"/><circle cx="690" cy="538" r="3.5" fill="#000"/><circle cx="724" cy="544" r="5" fill="#000"/>
<ellipse cx="693" cy="1426" rx="21" ry="27" transform="rotate(20 693 1426)" class="w"/>
<path d="M702,1401 L742,1422 L724,1472 L683,1451 Z" fill="#fff" stroke="none"/>
<path d="M702,1401 L742,1422 M683,1451 L724,1472"/>
<ellipse cx="733" cy="1447" rx="21" ry="27" transform="rotate(20 733 1447)" class="w"/>
<ellipse cx="736" cy="1449" rx="4.5" ry="6" transform="rotate(20 736 1449)"/>
</g>
<path d="M648.5,1876.4 L644.7,1872.3" fill="none" stroke="#000" stroke-width="2.4"/><path d="M634.4,1861.4 L648.1,1869.1 L644.7,1872.3 L641.2,1875.6 Z" fill="#000"/><path d="M648.5,1876.4 L652.3,1880.4" fill="none" stroke="#000" stroke-width="2.4"/><path d="M662.5,1891.4 L648.8,1883.7 L652.3,1880.4 L655.7,1877.2 Z" fill="#000"/>
<path d="M672.8,1861.9 L669.2,1858.3" fill="none" stroke="#000" stroke-width="2.4"/><path d="M658.8,1847.5 L672.6,1855.0 L669.2,1858.3 L665.8,1861.6 Z" fill="#000"/><path d="M672.8,1861.9 L676.4,1865.6" fill="none" stroke="#000" stroke-width="2.4"/><path d="M686.9,1876.4 L673.0,1868.9 L676.4,1865.6 L679.8,1862.3 Z" fill="#000"/>
<path d="M706.5,1873.6 L703.1,1870.1" fill="none" stroke="#000" stroke-width="2.4"/><path d="M692.5,1859.5 L706.4,1866.8 L703.1,1870.1 L699.7,1873.5 Z" fill="#000"/><path d="M706.5,1873.6 L710.0,1877.0" fill="none" stroke="#000" stroke-width="2.4"/><path d="M720.6,1887.6 L706.6,1880.4 L710.0,1877.0 L713.3,1873.6 Z" fill="#000"/>
<path d="M710.3,2543.5 L707.4,2540.9" fill="none" stroke="#000" stroke-width="2.4"/><path d="M696.0,2531.1 L710.5,2537.3 L707.4,2540.9 L704.3,2544.5 Z" fill="#000"/><path d="M710.3,2543.5 L713.3,2546.0" fill="none" stroke="#000" stroke-width="2.4"/><path d="M724.6,2555.9 L710.2,2549.6 L713.3,2546.0 L716.4,2542.4 Z" fill="#000"/>
<circle cx="619.4" cy="1786.0" r="28.7" fill="#fff" stroke="#000" stroke-width="1.5"/><text x="619.4" y="1799.0" text-anchor="middle" class="b" font-size="50">a</text>
<circle cx="708.6" cy="1921.0" r="28.7" fill="#fff" stroke="#000" stroke-width="1.5"/><text x="708.6" y="1934.0" text-anchor="middle" class="b" font-size="50">c</text>
<circle cx="652.5" cy="2467.9" r="28.7" fill="#fff" stroke="#000" stroke-width="1.5"/><text x="652.5" y="2482.9" text-anchor="middle" class="b" font-size="50">b</text>
<circle cx="756.2" cy="2570.9" r="28.7" fill="#fff" stroke="#000" stroke-width="1.5"/><text x="756.2" y="2585.9" text-anchor="middle" class="b" font-size="50">d</text>
<circle cx="1207.0" cy="1864.5" r="42.0" fill="#b2b2b2" stroke="#000" stroke-width="2.5"/><text x="1207.0" y="1882.5" text-anchor="middle" class="b" font-size="50">2</text>
<path d="M1486.5,1486.6 Q1462.5,1473.8 1443.7,1496.4 Q1421.2,1533.9 1438.4,1575.3" class="l" stroke-width="2.6"/>
<path d="M1464.0,1594.0 L1429.4,1579.8 L1441.5,1575.3 L1451.2,1560.2 Z" fill="#000"/>
<text x="1452" y="1560" class="b" font-size="77" textLength="82" lengthAdjust="spacingAndGlyphs">90</text>
<ellipse cx="1546" cy="1514" rx="8.5" ry="10" fill="none" stroke="#000" stroke-width="5"/>
<!-- p5.svg -->
<defs><clipPath id="c5"><circle cx="1971.8" cy="1787.6" r="295.5"/></clipPath></defs>
<g transform="translate(1880,1950) scale(.5)" class="l" stroke-width="6.5">
<path d="M125,453 L55,530 L108,948 L200,945"/>
<path d="M55,530 L230,525 Q275,530 280,565 L285,690"/>
<path d="M218,362 Q270,348 335,360"/>
<path d="M340,330 L335,275 Q338,228 400,226 L740,222 Q775,225 778,260 L785,325"/>
<path d="M340,330 L785,325 L1190,330 L1575,325"/>
<path d="M778,245 Q790,220 850,220 L1140,215 Q1180,222 1190,260 Q1200,300 1190,330"/>
<path d="M1160,218 L1430,215 Q1530,225 1570,250 Q1590,275 1575,325"/>
<path d="M345,335 Q330,380 345,410 L358,510"/>
<path d="M785,330 Q800,420 795,488 M1190,335 Q1210,420 1200,488"/>
<path d="M1578,335 Q1612,400 1570,478"/>
<path d="M358,510 Q500,495 795,488 L1050,480 L1150,490 L1200,490 L1400,482 L1565,478"/>
<path d="M358,510 L290,662 M1200,490 L1300,600 L1310,640 L1480,855"/>
<path d="M300,655 Q310,640 350,640 L1280,618 L1470,855 Q1482,870 1472,895"/>
<path d="M300,660 L200,918 L1465,862"/>
<path d="M200,920 Q200,1000 220,1048 Q226,1058 250,1055 L1440,985 Q1470,980 1470,960 L1476,880"/>
<path d="M205,1045 L230,1280 L1470,1180 L1478,975"/>
<path d="M1200,490 L1480,840 Q1510,872 1560,875 L2270,830 Q2298,825 2284,810 L1928,600 L1800,590 L1765,580 L1565,478"/>
<path d="M1770,580 L1770,530 Q1775,505 1820,505 L1930,500 L1935,520 L1926,598"/>
<path d="M1585,345 L1625,345 L1930,490 L1930,500"/>
<path d="M2290,830 L2265,930 L1495,970 L1470,958"/>
<path d="M2220,935 L2180,1125 L1478,1165"/>
</g>
<path d="M1917.5,2081 A298.5,298.5 0 1 1 1985,2085.8 Z" fill="#fff" stroke="none"/>
<path d="M1917.5,2081 A298.5,298.5 0 1 1 1985,2085.8" fill="none" stroke="#000" stroke-width="8"/>
<path d="M1917.5,2081 L1996,2360 L1985,2084" class="l" stroke-width="2.5"/>
<g clip-path="url(#c5)"><g transform="translate(1610,1440) scale(0.37456)">
<g fill="none" stroke="#333" stroke-width="4" stroke-linecap="round" stroke-linejoin="round">
<path d="M445,750 C470,640 520,585 620,572 Q720,565 760,620"/>
<path d="M495,730 C510,660 560,610 680,600 Q745,598 772,685"/>
<path d="M775,690 L800,825"/>
<path d="M1100,862 C1030,840 1005,760 1080,700 Q1140,655 1172,675 Q1212,700 1180,742 C1140,790 1100,800 1112,838 Q1120,850 1138,845"/>
<path d="M1098,855 Q1088,900 1130,916 Q1170,926 1212,905"/>
<path d="M1132,846 L1450,715 M1020,992 L1545,780 M940,925 L1040,885 M975,915 L1045,980"/>
<path d="M545,975 L555,1180 M575,965 L583,1205 M715,895 L720,1150 M750,905 L755,1010"/>
<path d="M590,1210 L720,1175 L850,1255 L1080,1165"/>
<path d="M720,1175 C720,1080 740,1010 830,975"/>
<path d="M850,1255 C845,1180 838,1120 860,1090 Q880,1060 920,1045"/>
</g>
<g class="l" stroke-width="7">
<path d="M180,872 L710,645 L772,692 L250,925"/>
<path d="M180,872 L830,1415"/>
<path d="M250,925 L390,1042 L715,895"/>
<path d="M720,768 L1555,1415 M650,825 L1405,1415"/>
<path d="M920,375 L1750,910 L1190,1125"/>
<path d="M532,375 L545,585 M703,375 L708,575 M752,375 L760,620"/>
</g>
<path d="M735,805 C720,690 780,570 920,535 Q1020,515 1120,575" fill="none" stroke="#000" stroke-width="17"/>
<path d="M1185,628 L1122,540 L1128,595 L1078,636 Z" fill="#000"/>
</g></g>
<circle cx="2118.3" cy="1624.7" r="42.0" fill="#b2b2b2" stroke="#000" stroke-width="2.5"/><text x="2118.3" y="1642.7" text-anchor="middle" class="b" font-size="50">2</text>
<circle cx="1875.9" cy="1986.9" r="42.0" fill="#b2b2b2" stroke="#000" stroke-width="2.5"/><text x="1875.9" y="2004.9" text-anchor="middle" class="b" font-size="50">1</text>
<path d="M2020.5,2392.8 L2069.9,2316.7 L2070.0,2326.4 L2076.0,2297.5 L2053.6,2316.8 L2062.2,2312.1 L2019.5,2392.2 Z" fill="#000"/>
<path d="M2550.5,2365.6 L2498.2,2293.6 L2507.4,2297.0 L2482.5,2281.0 L2492.5,2308.8 L2491.2,2299.1 L2549.5,2366.4 Z" fill="#000"/>
<circle cx="2359.0" cy="2204.0" r="42.0" fill="#b2b2b2" stroke="#000" stroke-width="2.5"/><text x="2359.0" y="2222.0" text-anchor="middle" class="b" font-size="50">2</text>
<circle cx="2101.5" cy="2472.5" r="42.0" fill="#b2b2b2" stroke="#000" stroke-width="2.5"/><text x="2101.5" y="2490.5" text-anchor="middle" class="b" font-size="50">1</text>
<!-- p6.svg -->
<g transform="translate(3143.4,1811) scale(.3665)" class="l" stroke-width="8">
<!-- left arm -->
<path d="M215,918 L160,570 Q135,440 138,420 Q138,395 180,398 Q295,410 316,458 C320,560 325,640 345,700 L390,962 Z"/>
<path d="M140,405 Q150,375 195,366 L735,260 Q760,255 790,254"/>
<!-- seat -->
<path d="M340,605 Q345,575 420,548 C560,495 700,455 780,445 Q830,438 900,452 C1000,465 1100,465 1180,482 C1300,495 1420,510 1520,535 C1650,560 1760,575 1815,600 Q1840,612 1840,630"/>
<path d="M340,605 L1430,768 Q1490,778 1530,752 C1640,690 1750,650 1838,628"/>
<path d="M338,605 C334,650 340,690 362,722 L1495,908 Q1530,905 1536,885 L1540,843 L1842,658 L1840,628"/>
<!-- base -->
<path d="M362,722 L400,965 L1495,1215 L1980,848"/>
<path d="M1503,912 L1510,1188 L1970,840 L1975,555 L1870,607 L1840,610"/>
<!-- backs -->
<path d="M780,445 C760,380 755,310 790,254 Q800,235 835,226"/>
<path d="M1250,487 C1238,400 1250,310 1310,264"/>
<path d="M1835,605 C1828,480 1840,380 1875,340 Q1900,315 1985,296 Q2003,295 2003,315 L1985,840"/>
<!-- headrests -->
<path d="M830,222 Q818,215 818,180 L820,140 Q822,118 850,108 Q890,92 940,90 L1150,98 L1400,115"/>
<path d="M830,222 L1305,258"/>
<path d="M1305,258 C1300,220 1300,190 1306,165"/>
<path d="M1312,260 C1308,220 1308,190 1312,165 Q1320,135 1345,128 Q1400,113 1480,114 L1700,118 Q1880,135 1992,168"/>
<path d="M1312,262 L1880,302"/>
<path d="M1992,168 Q2008,172 2008,200 Q2008,250 1995,288 L1895,303 Q1875,305 1872,285 L1870,235 Q1870,200 1900,190 Z"/>
<use href="#hng" x="1890" y="811"/>
<use href="#hng" x="1619" y="969"/>
</g>
<g transform="translate(3740,1880) scale(0.48019)" class="l" stroke-width="6.2">
<path d="M690,175 Q680,140 685,110 Q690,75 740,68 Q780,62 820,65 L1210,90 Q1245,95 1248,112 Q1252,140 1240,170 Q1235,188 1222,196 L1205,200"/>
<path d="M690,176 L1205,200 L1215,112 L1246,102"/>
<path d="M655,365 Q648,300 660,250 Q670,200 690,178"/>
<path d="M1225,198 Q1236,212 1230,245 M1205,204 L1175,322"/>
<path d="M655,365 L1115,408"/>
<path d="M655,365 L560,420 L470,490 L415,525 L140,720 Q105,745 100,782 L105,880 Q108,902 140,905 L1260,1020 Q1292,1024 1300,998 L1375,662 Q1380,640 1350,630 L1090,570 L1095,470"/>
<path d="M1095,470 Q1100,452 1120,440 L1215,270 Q1230,247 1262,245 L1420,262 Q1452,268 1448,292 L1422,440 Q1410,468 1370,465 L1135,442 Q1105,440 1095,470"/>
<path d="M1448,292 C1440,500 1400,800 1310,1080 L1262,1178"/>
<path d="M1352,760 L1322,960"/>
<path d="M148,905 L155,1140 L1190,1480 L1228,1180"/>
<path d="M1282,1022 L1274,1165 Q1270,1180 1250,1178 L1228,1178 M1250,1180 L1196,1462"/>
<path d="M165,1145 L170,1165 L368,1232 M165,1145 L370,1212"/>
<circle cx="375" cy="1221" r="8"/>
<path d="M885,1370 L890,1395 L1168,1486 M885,1370 L1168,1460"/>
<circle cx="1176" cy="1473" r="12"/>
<path d="M60,495 C90,420 160,375 225,375 C290,378 340,410 375,470 C335,436 285,404 225,402 C165,402 100,438 60,495 Z" fill="#000" stroke="#000" stroke-width="3"/>
<path d="M415,530 L345,500 L372,482 L405,458 Z" fill="#000" stroke="none"/>
</g>
<path d="M3931.3,1898.6 L3915.3,2069.7 L4027.6,1909 Z" fill="#fff" stroke="none"/>
<path d="M3931.3,1899.9 A202,202 0 1 1 4027.6,1910.4 Z" fill="#fff" stroke="none"/>
<path d="M3931.3,1899.9 A202,202 0 1 1 4027.6,1910.4" fill="none" stroke="#000" stroke-width="8.5"/>
<path d="M3931.3,1898.6 L3915.3,2069.7 L4027.6,1909" class="l" stroke-width="2.2"/>
<g transform="translate(3760,1480) scale(.28319)" class="l" stroke-width="8.5">
<path d="M730,490 L825,483 L848,497 L1030,483 L1085,455 L1213,440 L1200,730 L1078,728 L1080,590 Q1078,548 1055,548 Q1030,548 1030,590 L1030,790 L845,790 L845,600 Q845,565 835,565 Q825,570 825,600 L822,732 L730,732 Z" class="w"/>
<path d="M825,483 L822,600 M848,497 L845,600 M1030,483 L1030,560 M1085,455 L1082,560"/>
<ellipse cx="775" cy="550" rx="24" ry="28"/><ellipse cx="1140" cy="510" rx="30" ry="33"/>
<path d="M710,900 L800,903 L803,1040 Q808,1065 825,1065 Q845,1062 848,1040 L850,850 L1032,857 L1028,1075 Q1030,1095 1045,1092 Q1058,1085 1058,1060 L1060,925 L1185,932 L1175,1215 L1055,1190 L1022,1150 L848,1125 L798,1145 L708,1135 Z" class="w"/>
<path d="M800,1040 L798,1145 M848,1040 L848,1125 M1025,1075 L1022,1150 M1058,1060 L1055,1190"/>
<ellipse cx="752" cy="1080" rx="22" ry="27"/><ellipse cx="1112" cy="1145" rx="30" ry="30"/>
<path d="M330,668 L400,665 L405,680 L520,682 L560,660 L643,655 L648,880 L625,882 L620,1000 L335,980 Z" class="w"/>
<path d="M400,665 L405,912 M520,682 L525,760 M560,660 L562,800"/>
<path d="M528,800 Q525,740 545,738 Q565,740 562,800"/>
<path d="M308,795 L375,792 L380,870 L400,872 L405,912 L525,922 L528,800 L620,800 L625,1028 L540,1018 L525,985 L410,975 L375,990 L310,985 Z" class="w"/>
<path d="M375,870 L375,990 M405,912 L410,975 M525,922 L525,985 M540,800 L540,1018"/>
<path d="M532,800 L535,935" stroke-width="14"/>
<ellipse cx="362" cy="715" rx="15" ry="22"/><ellipse cx="600" cy="705" rx="20" ry="26"/><ellipse cx="340" cy="940" rx="15" ry="24"/><ellipse cx="577" cy="975" rx="20" ry="26"/>
<path d="M1300,585 L1312,1040 L1355,1020 L1298,1110 L1250,1015 L1290,1040 Z" fill="#000" stroke="none"/>
</g>
<circle cx="3459.5" cy="2026.0" r="42.0" fill="#b2b2b2" stroke="#000" stroke-width="2.5"/><text x="3459.5" y="2044.0" text-anchor="middle" class="b" font-size="50">2</text>
<circle cx="4166.0" cy="2242.5" r="42.0" fill="#b2b2b2" stroke="#000" stroke-width="2.5"/><text x="4166.0" y="2260.5" text-anchor="middle" class="b" font-size="50">3</text>
<!-- parts.svg -->
<g fill="none" stroke="#000" stroke-width="2.6">
<rect x="132.5" y="2831.5" width="3055.5" height="337"/>
<line x1="472" y1="2831.5" x2="472" y2="3168.5"/>
<line x1="811.5" y1="2831.5" x2="811.5" y2="3168.5"/>
<line x1="1151" y1="2831.5" x2="1151" y2="3168.5"/>
<line x1="1490.5" y1="2831.5" x2="1490.5" y2="3168.5"/>
<line x1="1830" y1="2831.5" x2="1830" y2="3168.5"/>
<line x1="2169.5" y1="2831.5" x2="2169.5" y2="3168.5"/>
<line x1="2509" y1="2831.5" x2="2509" y2="3168.5"/>
<line x1="2848.5" y1="2831.5" x2="2848.5" y2="3168.5"/>
<path d="M393,3090 h79 M393,3090 v78.5"/>
<path d="M732.5,3090 h79 M732.5,3090 v78.5"/>
<path d="M1072,3090 h79 M1072,3090 v78.5"/>
<path d="M1411.5,3090 h79 M1411.5,3090 v78.5"/>
<path d="M1751,3090 h79 M1751,3090 v78.5"/>
<path d="M2090.5,3090 h79 M2090.5,3090 v78.5"/>
<path d="M2430,3090 h79 M2430,3090 v78.5"/>
<path d="M2769.5,3090 h79 M2769.5,3090 v78.5"/>
<path d="M3109,3090 h79 M3109,3090 v78.5"/>
</g>
<circle cx="195" cy="2886.5" r="38.5" fill="#fff" stroke="#000" stroke-width="2"/>
<text x="195" y="2912.5" text-anchor="middle" class="b" font-size="74">a</text>
<text x="432.5" y="3146.5" text-anchor="middle" class="b" font-size="49">3</text>
<circle cx="534.5" cy="2886.5" r="38.5" fill="#fff" stroke="#000" stroke-width="2"/>
<text x="534.5" y="2913.5" text-anchor="middle" class="b" font-size="74">b</text>
<text x="772" y="3146.5" text-anchor="middle" class="b" font-size="49">5</text>
<circle cx="874" cy="2886.5" r="38.5" fill="#fff" stroke="#000" stroke-width="2"/>
<text x="874" y="2912.5" text-anchor="middle" class="b" font-size="74">c</text>
<text x="1111.5" y="3146.5" text-anchor="middle" class="b" font-size="49">9</text>
<circle cx="1213.5" cy="2886.5" r="38.5" fill="#fff" stroke="#000" stroke-width="2"/>
<text x="1213.5" y="2913.5" text-anchor="middle" class="b" font-size="74">d</text>
<text x="1451" y="3146.5" text-anchor="middle" class="b" font-size="49">5</text>
<circle cx="1553" cy="2886.5" r="38.5" fill="#fff" stroke="#000" stroke-width="2"/>
<text x="1553" y="2912.5" text-anchor="middle" class="b" font-size="74">e</text>
<text x="1790.5" y="3146.5" text-anchor="middle" class="b" font-size="49">2</text>
<circle cx="1892.5" cy="2886.5" r="38.5" fill="#fff" stroke="#000" stroke-width="2"/>
<text x="1892.5" y="2913.5" text-anchor="middle" class="b" font-size="74">f</text>
<text x="2130" y="3146.5" text-anchor="middle" class="b" font-size="49">4</text>
<circle cx="2232" cy="2886.5" r="38.5" fill="#fff" stroke="#000" stroke-width="2"/>
<text x="2232" y="2906.5" text-anchor="middle" class="b" font-size="74">g</text>
<text x="2469.5" y="3146.5" text-anchor="middle" class="b" font-size="49">4</text>
<circle cx="2571.5" cy="2886.5" r="38.5" fill="#fff" stroke="#000" stroke-width="2"/>
<text x="2571.5" y="2913.5" text-anchor="middle" class="b" font-size="74">h</text>
<text x="2809" y="3146.5" text-anchor="middle" class="b" font-size="49">4</text>
<circle cx="2911" cy="2886.5" r="38.5" fill="#fff" stroke="#000" stroke-width="2"/>
<text x="2911" y="2913.5" text-anchor="middle" class="b" font-size="74">i</text>
<text x="3148.5" y="3146.5" text-anchor="middle" class="b" font-size="49">4</text>
<text x="350" y="2882.5" class="b" font-size="44" textLength="80" lengthAdjust="spacingAndGlyphs">200</text>
<g fill="none" stroke="#000" stroke-width="4.2"><ellipse cx="636" cy="2867" rx="15" ry="15.5"/><path d="M620,2885.5 L652,2848.5"/></g>
<text x="661" y="2882.5" class="b" font-size="44" textLength="135" lengthAdjust="spacingAndGlyphs">55x45</text>
<text x="1024" y="2882.5" class="b" font-size="44" textLength="107" lengthAdjust="spacingAndGlyphs">4x30</text>
<text x="1314" y="2882.5" class="b" font-size="44" textLength="150" lengthAdjust="spacingAndGlyphs">4.5x45</text>
<text x="2039" y="2882.5" class="b" font-size="44" textLength="107" lengthAdjust="spacingAndGlyphs">6x35</text>
<text x="2404" y="2882.5" class="b" font-size="44" textLength="63.5" lengthAdjust="spacingAndGlyphs">M6</text>
<g fill="none" stroke="#000" stroke-width="4.2"><ellipse cx="2677" cy="2867" rx="15" ry="15.5"/><path d="M2661,2885.5 L2693,2848.5"/></g>
<text x="2700" y="2882.5" class="b" font-size="44" textLength="38" lengthAdjust="spacingAndGlyphs">6/</text>
<g fill="none" stroke="#000" stroke-width="4.2"><ellipse cx="2762" cy="2867" rx="15" ry="15.5"/><path d="M2746,2885.5 L2778,2848.5"/></g>
<text x="2787" y="2882.5" class="b" font-size="44" textLength="49" lengthAdjust="spacingAndGlyphs">12</text>
<g fill="none" stroke="#000" stroke-width="4.2"><ellipse cx="3114" cy="2867" rx="15" ry="15.5"/><path d="M3098,2885.5 L3130,2848.5"/></g>
<text x="3139" y="2882.5" class="b" font-size="44" textLength="25" lengthAdjust="spacingAndGlyphs">6</text>
<g transform="translate(132.5,2831.5) scale(.5)" class="l" stroke-width="3.4">
<path d="M150,329 L545,217 Q602,222 600,275 Q597,312 570,322 L150,517"/>
<ellipse cx="135" cy="423" rx="57" ry="95" transform="rotate(-8 135 423)" class="w"/>
<path d="M218,267 L370,230 L440,242 L285,282 Z M218,267 L220,277 L285,292 L285,282 M285,292 L372,268" />
<ellipse cx="248" cy="266" rx="6" ry="3"/><ellipse cx="340" cy="252" rx="6" ry="3"/><ellipse cx="372" cy="238" rx="6" ry="3"/>
</g>
<g transform="translate(472,2831.5) scale(.5)" class="l" stroke-width="3.4">
<g transform="translate(56,137) scale(.2955)" stroke-width="11.5">
<path d="M232,440 L295,1170 Q330,1330 560,1440 Q760,1520 915,1525 Q1080,1520 1280,1440 Q1490,1330 1520,1170 L1598,440"/>
<path d="M330,1290 Q480,1440 915,1500 Q1350,1440 1490,1290"/>
<ellipse cx="915" cy="440" rx="685" ry="235"/><ellipse cx="915" cy="452" rx="640" ry="213"/>
<path d="M290,445 L750,400 M300,468 L750,430"/>
<path d="M555,415 L555,270 L770,360 M580,262 L790,345"/>
<path d="M990,320 L1050,255 L1105,258 L1100,395 M1020,335 L1100,265"/>
<path d="M1075,400 L1500,385 M1075,420 L1498,402 L1480,530"/>
<path d="M1030,470 L1380,600 M1000,490 L1320,615"/>
<path d="M830,465 L650,630 M865,480 L710,640"/>
<path d="M875,480 L875,660 M990,480 L990,660 M755,420 L752,520"/>
<path d="M835,320 L760,400 Q770,440 910,465 Q1050,440 1060,400 L985,320" class="w"/>
<ellipse cx="910" cy="320" rx="75" ry="30" class="w"/>
</g>
</g>
<g transform="translate(811.5,2831.5) scale(.5)" class="l" stroke-width="3.4">
<path d="M150.3,569.0 L452.1,323.6 L430.4,298.0 L139.4,556.2 Z" class="w"/><path d="M120.5,583.3 L146.1,573.3 L134.5,559.6 Z" fill="#000"/><ellipse cx="140.9" cy="566.0" rx="6.1" ry="16.9" transform="rotate(-32.3 140.9 566.0)" class="w"/><ellipse cx="142.9" cy="564.2" rx="4.6" ry="14.2" transform="rotate(-32.3 142.9 564.2)" class="w"/><ellipse cx="162.2" cy="547.9" rx="7.8" ry="21.6" transform="rotate(-32.3 162.2 547.9)" class="w"/><ellipse cx="164.8" cy="545.7" rx="5.8" ry="18.1" transform="rotate(-32.3 164.8 545.7)" class="w"/><ellipse cx="183.4" cy="529.8" rx="9.4" ry="26.2" transform="rotate(-32.3 183.4 529.8)" class="w"/><ellipse cx="186.6" cy="527.1" rx="7.1" ry="22.0" transform="rotate(-32.3 186.6 527.1)" class="w"/><ellipse cx="204.7" cy="511.7" rx="11.1" ry="30.8" transform="rotate(-32.3 204.7 511.7)" class="w"/><ellipse cx="208.5" cy="508.6" rx="8.3" ry="25.9" transform="rotate(-32.3 208.5 508.6)" class="w"/><ellipse cx="226.0" cy="493.7" rx="11.3" ry="31.5" transform="rotate(-32.3 226.0 493.7)" class="w"/><ellipse cx="229.8" cy="490.4" rx="8.5" ry="26.5" transform="rotate(-32.3 229.8 490.4)" class="w"/><ellipse cx="247.3" cy="475.6" rx="11.3" ry="31.5" transform="rotate(-32.3 247.3 475.6)" class="w"/><ellipse cx="251.1" cy="472.3" rx="8.5" ry="26.5" transform="rotate(-32.3 251.1 472.3)" class="w"/><ellipse cx="268.6" cy="457.5" rx="11.3" ry="31.5" transform="rotate(-32.3 268.6 457.5)" class="w"/><ellipse cx="272.4" cy="454.2" rx="8.5" ry="26.5" transform="rotate(-32.3 272.4 454.2)" class="w"/><ellipse cx="289.9" cy="439.4" rx="11.3" ry="31.5" transform="rotate(-32.3 289.9 439.4)" class="w"/><ellipse cx="293.7" cy="436.2" rx="8.5" ry="26.5" transform="rotate(-32.3 293.7 436.2)" class="w"/><ellipse cx="311.1" cy="421.4" rx="11.3" ry="31.5" transform="rotate(-32.3 311.1 421.4)" class="w"/><ellipse cx="315.0" cy="418.1" rx="8.5" ry="26.5" transform="rotate(-32.3 315.0 418.1)" class="w"/><ellipse cx="332.4" cy="403.3" rx="11.3" ry="31.5" transform="rotate(-32.3 332.4 403.3)" class="w"/><ellipse cx="336.3" cy="400.0" rx="8.5" ry="26.5" transform="rotate(-32.3 336.3 400.0)" class="w"/><ellipse cx="353.7" cy="385.2" rx="11.3" ry="31.5" transform="rotate(-32.3 353.7 385.2)" class="w"/><ellipse cx="357.6" cy="381.9" rx="8.5" ry="26.5" transform="rotate(-32.3 357.6 381.9)" class="w"/><ellipse cx="375.0" cy="367.1" rx="11.3" ry="31.5" transform="rotate(-32.3 375.0 367.1)" class="w"/><ellipse cx="378.8" cy="363.9" rx="8.5" ry="26.5" transform="rotate(-32.3 378.8 363.9)" class="w"/><ellipse cx="396.3" cy="349.0" rx="11.3" ry="31.5" transform="rotate(-32.3 396.3 349.0)" class="w"/><ellipse cx="400.1" cy="345.8" rx="8.5" ry="26.5" transform="rotate(-32.3 400.1 345.8)" class="w"/><ellipse cx="417.6" cy="331.0" rx="11.3" ry="31.5" transform="rotate(-32.3 417.6 331.0)" class="w"/><ellipse cx="421.4" cy="327.7" rx="8.5" ry="26.5" transform="rotate(-32.3 421.4 327.7)" class="w"/><ellipse cx="438.9" cy="312.9" rx="11.3" ry="31.5" transform="rotate(-32.3 438.9 312.9)" class="w"/><ellipse cx="442.7" cy="309.6" rx="8.5" ry="26.5" transform="rotate(-32.3 442.7 309.6)" class="w"/><path d="M458.3,330.8 L540.7,335.3 L433.3,208.7 L424.3,290.8 Z" class="w"/><ellipse cx="489.3" cy="270.1" rx="16.0" ry="83.0" transform="rotate(-40.3 489.3 270.1)" class="w"/><path d="M515.9,299.9 L464.2,238.9" stroke-width="11" stroke-linecap="butt"/><path d="M498.6,268.7 L481.5,270.1" stroke-width="7" stroke-linecap="butt"/>
</g>
<g transform="translate(1151,2831.5) scale(.5)" class="l" stroke-width="3.4">
<path d="M144.1,599.5 L512.0,287.2 L489.8,262.0 L133.0,586.9 Z" class="w"/><path d="M114.5,614.3 L140.0,603.9 L128.1,590.4 Z" fill="#000"/><ellipse cx="133.6" cy="597.6" rx="5.9" ry="16.3" transform="rotate(-33.3 133.6 597.6)" class="w"/><ellipse cx="135.5" cy="595.8" rx="4.4" ry="13.7" transform="rotate(-33.3 135.5 595.8)" class="w"/><ellipse cx="152.8" cy="580.6" rx="7.1" ry="19.7" transform="rotate(-33.3 152.8 580.6)" class="w"/><ellipse cx="155.2" cy="578.6" rx="5.3" ry="16.6" transform="rotate(-33.3 155.2 578.6)" class="w"/><ellipse cx="172.1" cy="563.7" rx="8.3" ry="23.2" transform="rotate(-33.3 172.1 563.7)" class="w"/><ellipse cx="174.8" cy="561.3" rx="6.3" ry="19.5" transform="rotate(-33.3 174.8 561.3)" class="w"/><ellipse cx="191.3" cy="546.8" rx="9.6" ry="26.6" transform="rotate(-33.3 191.3 546.8)" class="w"/><ellipse cx="194.5" cy="544.0" rx="7.2" ry="22.4" transform="rotate(-33.3 194.5 544.0)" class="w"/><ellipse cx="210.5" cy="529.9" rx="10.8" ry="30.1" transform="rotate(-33.3 210.5 529.9)" class="w"/><ellipse cx="214.2" cy="526.7" rx="8.1" ry="25.3" transform="rotate(-33.3 214.2 526.7)" class="w"/><ellipse cx="229.8" cy="513.0" rx="11.3" ry="31.5" transform="rotate(-33.3 229.8 513.0)" class="w"/><ellipse cx="233.6" cy="509.6" rx="8.5" ry="26.5" transform="rotate(-33.3 233.6 509.6)" class="w"/><ellipse cx="249.0" cy="496.1" rx="11.3" ry="31.5" transform="rotate(-33.3 249.0 496.1)" class="w"/><ellipse cx="252.8" cy="492.7" rx="8.5" ry="26.5" transform="rotate(-33.3 252.8 492.7)" class="w"/><ellipse cx="268.3" cy="479.1" rx="11.3" ry="31.5" transform="rotate(-33.3 268.3 479.1)" class="w"/><ellipse cx="272.1" cy="475.8" rx="8.5" ry="26.5" transform="rotate(-33.3 272.1 475.8)" class="w"/><ellipse cx="287.5" cy="462.2" rx="11.3" ry="31.5" transform="rotate(-33.3 287.5 462.2)" class="w"/><ellipse cx="291.3" cy="458.9" rx="8.5" ry="26.5" transform="rotate(-33.3 291.3 458.9)" class="w"/><ellipse cx="306.8" cy="445.3" rx="11.3" ry="31.5" transform="rotate(-33.3 306.8 445.3)" class="w"/><ellipse cx="310.6" cy="442.0" rx="8.5" ry="26.5" transform="rotate(-33.3 310.6 442.0)" class="w"/><ellipse cx="326.0" cy="428.4" rx="11.3" ry="31.5" transform="rotate(-33.3 326.0 428.4)" class="w"/><ellipse cx="329.8" cy="425.0" rx="8.5" ry="26.5" transform="rotate(-33.3 329.8 425.0)" class="w"/><ellipse cx="345.3" cy="411.5" rx="11.3" ry="31.5" transform="rotate(-33.3 345.3 411.5)" class="w"/><ellipse cx="349.1" cy="408.1" rx="8.5" ry="26.5" transform="rotate(-33.3 349.1 408.1)" class="w"/><ellipse cx="364.5" cy="394.5" rx="11.3" ry="31.5" transform="rotate(-33.3 364.5 394.5)" class="w"/><ellipse cx="368.3" cy="391.2" rx="8.5" ry="26.5" transform="rotate(-33.3 368.3 391.2)" class="w"/><ellipse cx="383.8" cy="377.6" rx="11.3" ry="31.5" transform="rotate(-33.3 383.8 377.6)" class="w"/><ellipse cx="387.6" cy="374.3" rx="8.5" ry="26.5" transform="rotate(-33.3 387.6 374.3)" class="w"/><ellipse cx="403.0" cy="360.7" rx="11.3" ry="31.5" transform="rotate(-33.3 403.0 360.7)" class="w"/><ellipse cx="406.8" cy="357.4" rx="8.5" ry="26.5" transform="rotate(-33.3 406.8 357.4)" class="w"/><ellipse cx="422.3" cy="343.8" rx="11.3" ry="31.5" transform="rotate(-33.3 422.3 343.8)" class="w"/><ellipse cx="426.0" cy="340.4" rx="8.5" ry="26.5" transform="rotate(-33.3 426.0 340.4)" class="w"/><ellipse cx="441.5" cy="326.9" rx="11.3" ry="31.5" transform="rotate(-33.3 441.5 326.9)" class="w"/><ellipse cx="445.3" cy="323.5" rx="8.5" ry="26.5" transform="rotate(-33.3 445.3 323.5)" class="w"/><ellipse cx="460.8" cy="309.9" rx="11.3" ry="31.5" transform="rotate(-33.3 460.8 309.9)" class="w"/><ellipse cx="464.5" cy="306.6" rx="8.5" ry="26.5" transform="rotate(-33.3 464.5 306.6)" class="w"/><ellipse cx="480.0" cy="293.0" rx="11.3" ry="31.5" transform="rotate(-33.3 480.0 293.0)" class="w"/><ellipse cx="483.8" cy="289.7" rx="8.5" ry="26.5" transform="rotate(-33.3 483.8 289.7)" class="w"/><ellipse cx="499.2" cy="276.1" rx="11.3" ry="31.5" transform="rotate(-33.3 499.2 276.1)" class="w"/><ellipse cx="503.0" cy="272.8" rx="8.5" ry="26.5" transform="rotate(-33.3 503.0 272.8)" class="w"/><path d="M518.3,294.3 L601.5,298.1 L490.5,171.9 L483.6,254.9 Z" class="w"/><ellipse cx="548.3" cy="233.0" rx="16.0" ry="84.0" transform="rotate(-41.3 548.3 233.0)" class="w"/><path d="M575.4,262.4 L522.6,202.3" stroke-width="11" stroke-linecap="butt"/><path d="M557.6,231.5 L540.4,233.2" stroke-width="7" stroke-linecap="butt"/>
</g>
<g transform="translate(1490.5,2831.5) scale(.5)" class="l" stroke-width="3.4">
<g transform="translate(59,57) scale(.3695)" stroke-width="9.2">
<circle cx="1105" cy="430" r="305"/>
<path d="M195,1100 L415,800 L550,865 L345,1165 Z" class="w"/><path d="M415,810 L480,960 L545,870"/><ellipse cx="390" cy="995" rx="42" ry="32" transform="rotate(-20 390 995)"/>
<path d="M730,645 L742,662 L500,940"/>
<path d="M265,1290 L1030,290 L1310,312 L1375,570 L635,1455 L262,1312 Z" class="w"/>
<path d="M1030,300 L900,455" stroke-width="5"/>
<circle cx="1180" cy="505" r="88"/>
<path d="M560,1070 L975,565" stroke-width="100" stroke="#000"/><path d="M560,1070 L975,565" stroke-width="81" stroke="#fff"/>
<path d="M665,1125 L1065,635" stroke-width="96" stroke="#000"/><path d="M665,1125 L1065,635" stroke-width="77" stroke="#fff"/>
<path d="M760,1175 L1160,690" stroke-width="90" stroke="#000"/><path d="M760,1175 L1160,690" stroke-width="71" stroke="#fff"/>
<ellipse cx="465" cy="1195" rx="58" ry="42" transform="rotate(-20 465 1195)"/><ellipse cx="655" cy="1275" rx="52" ry="38" transform="rotate(-20 655 1275)"/>
</g>
</g>
<g transform="translate(1830,2831.5) scale(.5)" class="l" stroke-width="3.4">
<g transform="translate(20,137) scale(.2956)" stroke-width="11">
<path d="M784.1,1356.6 L1204.1,456.6 L1475.9,583.4 L1055.9,1483.4 Z" fill="#fff" stroke="#000" stroke-width="9" stroke-linejoin="round"/><path d="M792.8,1337.8 Q906.5,1448.8 1064.7,1464.7" fill="none" stroke="#000" stroke-width="11.25" stroke-linecap="round"/><path d="M810.3,1300.3 Q924.0,1411.3 1082.2,1427.2" fill="none" stroke="#000" stroke-width="11.25" stroke-linecap="round"/><path d="M827.8,1262.8 Q941.5,1373.8 1099.7,1389.7" fill="none" stroke="#000" stroke-width="11.25" stroke-linecap="round"/><path d="M845.3,1225.3 Q959.0,1336.3 1117.2,1352.2" fill="none" stroke="#000" stroke-width="11.25" stroke-linecap="round"/><path d="M862.8,1187.8 Q976.5,1298.8 1134.7,1314.7" fill="none" stroke="#000" stroke-width="11.25" stroke-linecap="round"/><path d="M880.3,1150.3 Q994.0,1261.3 1152.2,1277.2" fill="none" stroke="#000" stroke-width="11.25" stroke-linecap="round"/><path d="M897.8,1112.8 Q1011.5,1223.8 1169.7,1239.7" fill="none" stroke="#000" stroke-width="11.25" stroke-linecap="round"/><path d="M915.3,1075.3 Q1029.0,1186.3 1187.2,1202.2" fill="none" stroke="#000" stroke-width="11.25" stroke-linecap="round"/><path d="M932.8,1037.8 Q1046.5,1148.8 1204.7,1164.7" fill="none" stroke="#000" stroke-width="11.25" stroke-linecap="round"/><path d="M950.3,1000.3 Q1064.0,1111.3 1222.2,1127.2" fill="none" stroke="#000" stroke-width="11.25" stroke-linecap="round"/><path d="M967.8,962.8 Q1081.5,1073.8 1239.7,1089.7" fill="none" stroke="#000" stroke-width="11.25" stroke-linecap="round"/><path d="M985.3,925.3 Q1099.0,1036.3 1257.2,1052.2" fill="none" stroke="#000" stroke-width="11.25" stroke-linecap="round"/><path d="M1002.8,887.8 Q1116.5,998.8 1274.7,1014.7" fill="none" stroke="#000" stroke-width="11.25" stroke-linecap="round"/><path d="M1020.3,850.3 Q1134.0,961.3 1292.2,977.2" fill="none" stroke="#000" stroke-width="11.25" stroke-linecap="round"/><path d="M1037.8,812.8 Q1151.5,923.8 1309.7,939.7" fill="none" stroke="#000" stroke-width="11.25" stroke-linecap="round"/><path d="M1055.3,775.3 Q1169.0,886.3 1327.2,902.2" fill="none" stroke="#000" stroke-width="11.25" stroke-linecap="round"/><path d="M1072.8,737.8 Q1186.5,848.8 1344.7,864.7" fill="none" stroke="#000" stroke-width="11.25" stroke-linecap="round"/><path d="M1090.3,700.3 Q1204.0,811.3 1362.2,827.2" fill="none" stroke="#000" stroke-width="11.25" stroke-linecap="round"/><path d="M1107.8,662.8 Q1221.5,773.8 1379.7,789.7" fill="none" stroke="#000" stroke-width="11.25" stroke-linecap="round"/><path d="M1125.3,625.3 Q1239.0,736.3 1397.2,752.2" fill="none" stroke="#000" stroke-width="11.25" stroke-linecap="round"/><path d="M1142.8,587.8 Q1256.5,698.8 1414.7,714.7" fill="none" stroke="#000" stroke-width="11.25" stroke-linecap="round"/><path d="M1160.3,550.3 Q1274.0,661.3 1432.2,677.2" fill="none" stroke="#000" stroke-width="11.25" stroke-linecap="round"/><path d="M1177.8,512.8 Q1291.5,623.8 1449.7,639.7" fill="none" stroke="#000" stroke-width="11.25" stroke-linecap="round"/><path d="M1195.3,475.3 Q1309.0,586.3 1467.2,602.2" fill="none" stroke="#000" stroke-width="11.25" stroke-linecap="round"/>
<path d="M790,1330 Q770,1440 880,1490 Q990,1530 1050,1470" />
<path d="M1190,205 Q1215,180 1300,180 L1450,230 L1600,320 L1690,400 L1695,435 L1640,570 Q1610,610 1530,610 L1480,600 L1220,470 L1190,460 Q1130,420 1130,350 Z" class="w"/>
<path d="M1230,195 Q1295,250 1290,310 L1220,470 M1290,290 L1560,420 L1690,410 M1560,420 L1480,600"/>
</g>
</g>
<g transform="translate(2169.5,2831.5) scale(.5)" class="l" stroke-width="3.4">
<g transform="translate(21,137) scale(.3201)" stroke-width="10.6">
<path d="M510,505 L745,272 Q800,240 1030,232 Q1250,240 1320,272 L1562,500 L1520,850 L1335,1095 L1290,1120 L1035,1145 L800,1130 L755,1110 L535,820 Z" class="w"/>
<path d="M510,505 L735,825 Q1035,785 1340,825 L1562,500"/>
<path d="M735,825 L755,1110 M785,838 L800,1130 M1300,838 L1290,1120 M1345,825 L1335,1095"/>
<ellipse cx="1035" cy="520" rx="465" ry="290"/>
<ellipse cx="1035" cy="505" rx="295" ry="185"/>
<path d="M760,545 Q1035,270 1318,545 M790,595 Q1035,390 1290,595 M835,635 Q1035,480 1250,635 M885,662 Q1035,570 1190,662 M930,682 Q1035,625 1145,682"/>
</g>
</g>
<g transform="translate(2509,2831.5) scale(.5)" class="l" stroke-width="3.4">
<ellipse cx="347" cy="372" rx="201" ry="113" transform="rotate(27 347 372)" class="w"/>
<ellipse cx="351" cy="363" rx="201" ry="113" transform="rotate(27 351 363)" class="w"/>
<ellipse cx="366" cy="337" rx="101" ry="56" transform="rotate(27 366 337)"/>
<path d="M278,318 Q300,278 360,292 Q425,310 455,372" />
</g>
<g transform="translate(2848.5,2831.5) scale(.5)" class="l" stroke-width="3.4">
<path d="M134,337 L134,352 A200,108 0 0 0 534,352 L534,337" class="w"/>
<path d="M341,229.07 A200,108 0 1 1 313,229.6 L316,247.46 A171,83 0 1 0 340,247.05 Z" class="w"/>
</g>
<g fill="none" stroke="#000" stroke-width="4.8" stroke-linecap="round" stroke-linejoin="round"><path d="M4391,2742.5 V2781.3 H4537.5 V2742.5 M4424,2750 V2781 M4464.4,2750 V2781 M4505.2,2750 V2781 M4406.5,2768.5 V2781 M4444,2768.5 V2781 M4485,2768.5 V2781 M4522.6,2768.5 V2781"/></g>
<text x="4427" y="2813.4" font-size="41" stroke="#000" stroke-width="1" textLength="74" lengthAdjust="spacingAndGlyphs">mm</text>
<!-- footer.svg -->
<text x="393" y="3224" class="b" font-size="40" stroke="#000" stroke-width="0.7" textLength="455" lengthAdjust="spacingAndGlyphs" xml:space="preserve">BG: +359 892 90 90 92</text>
<text x="999" y="3224" class="b" font-size="40" stroke="#000" stroke-width="0.7" textLength="433" lengthAdjust="spacingAndGlyphs" xml:space="preserve">GR: +30 21 11 984 984</text>
<text x="1583" y="3224" class="b" font-size="40" stroke="#000" stroke-width="0.7" textLength="424" lengthAdjust="spacingAndGlyphs" xml:space="preserve">RO: +40 31 630 26 26</text>
<text x="2160" y="3224" class="b" font-size="40" stroke="#000" stroke-width="0.7" textLength="423" lengthAdjust="spacingAndGlyphs" xml:space="preserve">MK: +389 25 10 24 24</text>
<text x="2733" y="3224" class="b" font-size="40" stroke="#000" stroke-width="0.7" textLength="402" lengthAdjust="spacingAndGlyphs" xml:space="preserve">HU: +36 17 00 96 60</text>
<text x="3287" y="3224" class="b" font-size="40" stroke="#000" stroke-width="0.7" textLength="413" lengthAdjust="spacingAndGlyphs" xml:space="preserve">AL: +355 44 53 53 53</text>
<text x="3852" y="3224" class="b" font-size="40" stroke="#000" stroke-width="0.7" textLength="416" lengthAdjust="spacingAndGlyphs" xml:space="preserve">MD: +373 22 02 22 91</text>
<g fill="none" stroke="#000" stroke-width="3">
<rect x="132.5" y="202" width="4413" height="2459"/>
<line x1="132" y1="1430.5" x2="4545" y2="1430.5"/>
<line x1="1299.5" y1="202" x2="1299.5" y2="1430"/>
<line x1="3696.5" y1="202" x2="3696.5" y2="1430"/>
<line x1="1603.5" y1="1430" x2="1603.5" y2="2661"/>
<line x1="3073.5" y1="1430" x2="3073.5" y2="2661"/>
</g>
</svg>
</body></html>
